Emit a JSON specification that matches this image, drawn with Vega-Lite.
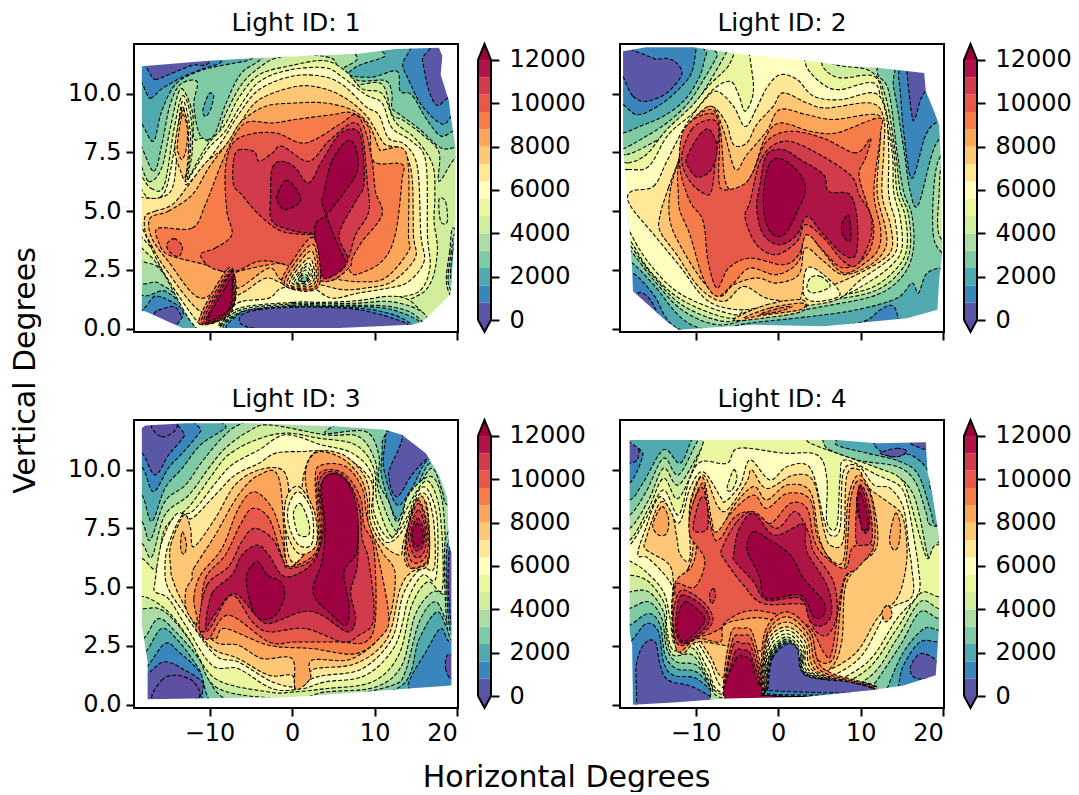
{"$schema":"https://vega.github.io/schema/vega-lite/v6.json","padding":{"left":10,"top":11,"right":0,"bottom":0},"background":"white","columns":5,"spacing":{"row":88,"column":20},"bounds":"flush","config":{"font":"DejaVu Sans","view":{"stroke":null},"axis":{"labelFont":"DejaVu Sans","titleFont":"DejaVu Sans","labelFontSize":24,"labelColor":"black","tickColor":"black","tickWidth":2,"tickSize":8,"grid":false,"domain":false,"labelPadding":5,"titleFontWeight":"normal","titleFontSize":30,"titleColor":"black"},"title":{"font":"DejaVu Sans","fontSize":25,"fontWeight":"normal","color":"black","offset":7}},
"datasets":{
"c1":[{"v":0,"x":-25,"y":-2},{"v":0,"x":25,"y":-2},{"v":0,"x":25,"y":14},{"v":0,"x":-25,"y":14},
{"v":800,"x":-19,"y":10.7},{"v":800,"x":-16.6,"y":10.6},{"v":800,"x":-15,"y":10.8},{"v":800,"x":-12.1,"y":11.2},{"v":800,"x":-10.1,"y":11.3},{"v":800,"x":-8,"y":12.5},{"v":800,"x":15.4,"y":12.5},{"v":800,"x":15.8,"y":11.4},{"v":800,"x":16.6,"y":10.1},{"v":800,"x":17.6,"y":9.5},{"v":800,"x":18.8,"y":9.8},{"v":800,"x":21.8,"y":10.4},{"v":800,"x":21.8,"y":-1},{"v":800,"x":-12.5,"y":-1},{"v":800,"x":-12.9,"y":0},{"v":800,"x":-14.1,"y":0.9},{"v":800,"x":-16.2,"y":0.8},{"v":800,"x":-19,"y":0.7},
{"v":1600,"x":-19,"y":10.1},{"v":1600,"x":-17.2,"y":9.8},{"v":1600,"x":-15.8,"y":10.2},{"v":1600,"x":-13.3,"y":10.7},{"v":1600,"x":-10.5,"y":11.1},{"v":1600,"x":-8.5,"y":11.4},{"v":1600,"x":-8,"y":12.5},{"v":1600,"x":12.7,"y":12.5},{"v":1600,"x":13.4,"y":11.2},{"v":1600,"x":14.1,"y":10.6},{"v":1600,"x":15.7,"y":9.5},{"v":1600,"x":18.2,"y":8.7},{"v":1600,"x":19.6,"y":9.1},{"v":1600,"x":21.8,"y":9},{"v":1600,"x":21.8,"y":-1},{"v":1600,"x":-12,"y":-1},{"v":1600,"x":-13.2,"y":0.7},{"v":1600,"x":-14.9,"y":1.2},{"v":1600,"x":-16.5,"y":1.4},{"v":1600,"x":-19,"y":1.45},
{"v":2400,"x":-19,"y":8.7},{"v":2400,"x":-18.2,"y":8.7},{"v":2400,"x":-16.8,"y":7.97},{"v":2400,"x":-15.8,"y":9.25},{"v":2400,"x":-14.1,"y":10.4},{"v":2400,"x":-11.3,"y":10.95},{"v":2400,"x":-8.5,"y":11.2},{"v":2400,"x":-4.8,"y":11.5},{"v":2400,"x":-4,"y":12.2},{"v":2400,"x":7.3,"y":12.1},{"v":2400,"x":11.3,"y":11.65},{"v":2400,"x":8.1,"y":11.2},{"v":2400,"x":6.9,"y":10.8},{"v":2400,"x":9.7,"y":10.7},{"v":2400,"x":12.7,"y":10.95},{"v":2400,"x":13.1,"y":10.1},{"v":2400,"x":14.5,"y":9.95},{"v":2400,"x":16.2,"y":8.96},{"v":2400,"x":18,"y":8.2},{"v":2400,"x":19.6,"y":8.4},{"v":2400,"x":21.8,"y":8.4},{"v":2400,"x":21.8,"y":-1},{"v":2400,"x":-11,"y":-1},{"v":2400,"x":-11.5,"y":0},{"v":2400,"x":-13.3,"y":1},{"v":2400,"x":-15.4,"y":1.6},{"v":2400,"x":-19,"y":2},
{"v":3200,"x":-19,"y":7.8},{"v":3200,"x":-16.8,"y":6.7},{"v":3200,"x":-15.8,"y":7.8},{"v":3200,"x":-14.8,"y":9.5},{"v":3200,"x":-13.5,"y":10.4},{"v":3200,"x":-11.5,"y":10.5},{"v":3200,"x":-11.9,"y":9.5},{"v":3200,"x":-11.1,"y":8.2},{"v":3200,"x":-9.5,"y":8.2},{"v":3200,"x":-8.1,"y":9.5},{"v":3200,"x":-6.3,"y":10.8},{"v":3200,"x":-4,"y":11.4},{"v":3200,"x":-1,"y":12.2},{"v":3200,"x":5.6,"y":12.1},{"v":3200,"x":7.9,"y":11.5},{"v":3200,"x":6.1,"y":11},{"v":3200,"x":8.1,"y":10.55},{"v":3200,"x":11.3,"y":10.55},{"v":3200,"x":12.1,"y":10},{"v":3200,"x":12.1,"y":9.4},{"v":3200,"x":13.1,"y":9.1},{"v":3200,"x":15.4,"y":8.5},{"v":3200,"x":18,"y":7.7},{"v":3200,"x":19.8,"y":7.7},{"v":3200,"x":21.8,"y":7.7},{"v":3200,"x":21.8,"y":-1},{"v":3200,"x":-11,"y":-1},{"v":3200,"x":-11.5,"y":0},{"v":3200,"x":-13.7,"y":1.3},{"v":3200,"x":-16.2,"y":1.95},{"v":3200,"x":-19,"y":2.45},
{"v":4000,"x":-19,"y":7.26},{"v":4000,"x":-17.4,"y":6.27},{"v":4000,"x":-15.8,"y":6.84},{"v":4000,"x":-14.7,"y":8.63},{"v":4000,"x":-13.5,"y":10.2},{"v":4000,"x":-12.1,"y":9.25},{"v":4000,"x":-11.9,"y":8.1},{"v":4000,"x":-10.9,"y":8.1},{"v":4000,"x":-9.3,"y":7.97},{"v":4000,"x":-8.1,"y":9.1},{"v":4000,"x":-6.1,"y":10.4},{"v":4000,"x":-4,"y":11.1},{"v":4000,"x":-2,"y":11.5},{"v":4000,"x":1.2,"y":11.65},{"v":4000,"x":4.8,"y":11.5},{"v":4000,"x":5.7,"y":10.95},{"v":4000,"x":7.7,"y":10.4},{"v":4000,"x":10.9,"y":10.4},{"v":4000,"x":12.1,"y":9.1},{"v":4000,"x":13.3,"y":8.9},{"v":4000,"x":15.8,"y":8.25},{"v":4000,"x":17.8,"y":7.5},{"v":4000,"x":17.8,"y":6.27},{"v":4000,"x":19.8,"y":7.26},{"v":4000,"x":21.8,"y":7.26},{"v":4000,"x":21.8,"y":-1},{"v":4000,"x":-9,"y":-1},{"v":4000,"x":-11.5,"y":0},{"v":4000,"x":-14.1,"y":1.6},{"v":4000,"x":-16.2,"y":2.6},{"v":4000,"x":-19,"y":3.4},
{"v":4800,"x":-19,"y":6.6},{"v":4800,"x":-17.1,"y":5.97},{"v":4800,"x":-15.5,"y":6.1},{"v":4800,"x":-14.3,"y":8.5},{"v":4800,"x":-13.3,"y":9.9},{"v":4800,"x":-12.3,"y":9.1},{"v":4800,"x":-12.1,"y":7.55},{"v":4800,"x":-12.7,"y":6.4},{"v":4800,"x":-12.1,"y":6.7},{"v":4800,"x":-10.3,"y":7.8},{"v":4800,"x":-8.1,"y":8.7},{"v":4800,"x":-6.5,"y":9.8},{"v":4800,"x":-4,"y":10.8},{"v":4800,"x":0,"y":11.2},{"v":4800,"x":4,"y":11.4},{"v":4800,"x":6.5,"y":10.95},{"v":4800,"x":8.5,"y":10.2},{"v":4800,"x":10.9,"y":10},{"v":4800,"x":12.5,"y":8.8},{"v":4800,"x":14.9,"y":8.1},{"v":4800,"x":17,"y":7},{"v":4800,"x":17.3,"y":5.7},{"v":4800,"x":17.2,"y":4.57},{"v":4800,"x":17.6,"y":3.3},{"v":4800,"x":16.7,"y":1.9},{"v":4800,"x":14,"y":1.2},{"v":4800,"x":5,"y":0},{"v":4800,"x":-8.1,"y":-0.5},{"v":4800,"x":-11.5,"y":0},{"v":4800,"x":-14.5,"y":1.87},{"v":4800,"x":-16.6,"y":2.87},{"v":4800,"x":-19,"y":4},
{"v":5600,"x":-19,"y":6.2},{"v":5600,"x":-17.4,"y":5.56},{"v":5600,"x":-15.4,"y":5.84},{"v":5600,"x":-14.1,"y":7.97},{"v":5600,"x":-13.3,"y":9.67},{"v":5600,"x":-12.5,"y":8.82},{"v":5600,"x":-12.3,"y":7.54},{"v":5600,"x":-12.9,"y":6.27},{"v":5600,"x":-11.7,"y":6.84},{"v":5600,"x":-10.1,"y":7.69},{"v":5600,"x":-8.1,"y":8.4},{"v":5600,"x":-6.3,"y":9.46},{"v":5600,"x":-4,"y":10.5},{"v":5600,"x":-0.4,"y":11},{"v":5600,"x":4,"y":11.1},{"v":5600,"x":6.1,"y":10.7},{"v":5600,"x":8.9,"y":9.96},{"v":5600,"x":10.9,"y":9.6},{"v":5600,"x":12.1,"y":8.54},{"v":5600,"x":14.5,"y":7.97},{"v":5600,"x":16.2,"y":7.1},{"v":5600,"x":16.4,"y":4},{"v":5600,"x":16.7,"y":2.6},{"v":5600,"x":15.4,"y":1.59},{"v":5600,"x":12.1,"y":1.3},{"v":5600,"x":8.1,"y":1},{"v":5600,"x":0,"y":0.74},{"v":5600,"x":-6.5,"y":0.45},{"v":5600,"x":-8.1,"y":0},{"v":5600,"x":-11.5,"y":0},{"v":5600,"x":-15,"y":2},{"v":5600,"x":-16.8,"y":3.3},{"v":5600,"x":-19,"y":4.4},
{"v":6400,"x":-19,"y":5.56},{"v":6400,"x":-16.2,"y":5.56},{"v":6400,"x":-14.5,"y":5.99},{"v":6400,"x":-13.9,"y":7.54},{"v":6400,"x":-13.3,"y":9.46},{"v":6400,"x":-12.6,"y":8.26},{"v":6400,"x":-12.5,"y":7.1},{"v":6400,"x":-12.9,"y":6.13},{"v":6400,"x":-10.9,"y":6.84},{"v":6400,"x":-8.5,"y":7.97},{"v":6400,"x":-6.5,"y":9.1},{"v":6400,"x":-4,"y":10.17},{"v":6400,"x":0,"y":10.74},{"v":6400,"x":3.6,"y":10.74},{"v":6400,"x":6.1,"y":10.38},{"v":6400,"x":8.9,"y":9.46},{"v":6400,"x":10.5,"y":9.1},{"v":6400,"x":11.7,"y":8.1},{"v":6400,"x":13.7,"y":7.83},{"v":6400,"x":15.2,"y":6.84},{"v":6400,"x":15.6,"y":4},{"v":6400,"x":16,"y":2.87},{"v":6400,"x":14.1,"y":2},{"v":6400,"x":11.7,"y":1.73},{"v":6400,"x":8.1,"y":1.52},{"v":6400,"x":4.8,"y":1.3},{"v":6400,"x":2.4,"y":1.73},{"v":6400,"x":-1.2,"y":1.73},{"v":6400,"x":-2.8,"y":1.3},{"v":6400,"x":-6.1,"y":1.16},{"v":6400,"x":-8.1,"y":0.74},{"v":6400,"x":-10.5,"y":0.31},{"v":6400,"x":-11.5,"y":0.31},{"v":6400,"x":-15.4,"y":2.3},{"v":6400,"x":-17.4,"y":3.72},{"v":6400,"x":-19,"y":5},
{"v":7200,"x":-17.8,"y":4.78},{"v":7200,"x":-16.6,"y":5},{"v":7200,"x":-14.5,"y":5.28},{"v":7200,"x":-12.5,"y":6.13},{"v":7200,"x":-10.5,"y":7.05},{"v":7200,"x":-8.1,"y":7.76},{"v":7200,"x":-6.3,"y":8.75},{"v":7200,"x":-4,"y":9.74},{"v":7200,"x":0.4,"y":10.3},{"v":7200,"x":3.6,"y":10.24},{"v":7200,"x":6.5,"y":9.8},{"v":7200,"x":8.9,"y":9.1},{"v":7200,"x":10.1,"y":8.47},{"v":7200,"x":11.3,"y":7.83},{"v":7200,"x":13.3,"y":7.62},{"v":7200,"x":14.5,"y":6.55},{"v":7200,"x":14.7,"y":4},{"v":7200,"x":14.9,"y":3},{"v":7200,"x":12.1,"y":2},{"v":7200,"x":8.9,"y":1.73},{"v":7200,"x":6.1,"y":1.66},{"v":7200,"x":3.2,"y":1.87},{"v":7200,"x":1.6,"y":1.73},{"v":7200,"x":-1.2,"y":1.94},{"v":7200,"x":-3.2,"y":2.15},{"v":7200,"x":-5.7,"y":1.59},{"v":7200,"x":-7.3,"y":1.3},{"v":7200,"x":-8.1,"y":1.16},{"v":7200,"x":-11.1,"y":0.74},{"v":7200,"x":-15.4,"y":2.58},{"v":7200,"x":-17.2,"y":3.66},{"v":7200,"x":-17.8,"y":4.14},
{"v":7205,"x":-14.2,"y":7.69},{"v":7205,"x":-13.3,"y":9.28},{"v":7205,"x":-12.6,"y":8.54},{"v":7205,"x":-12.6,"y":7.26},{"v":7205,"x":-13,"y":6.4},{"v":7205,"x":-13.5,"y":6.7},
{"v":8000,"x":-17.2,"y":4.7},{"v":8000,"x":-15,"y":5},{"v":8000,"x":-12.1,"y":5.7},{"v":8000,"x":-10.1,"y":6.84},{"v":8000,"x":-7.7,"y":7.97},{"v":8000,"x":-6.1,"y":8.82},{"v":8000,"x":-3.2,"y":9.46},{"v":8000,"x":0.4,"y":9.6},{"v":8000,"x":4,"y":9.6},{"v":8000,"x":7.3,"y":9.3},{"v":8000,"x":9.3,"y":8.68},{"v":8000,"x":10.5,"y":7.69},{"v":8000,"x":10.9,"y":7.6},{"v":8000,"x":13.3,"y":7.69},{"v":8000,"x":14.1,"y":6.84},{"v":8000,"x":14.1,"y":4},{"v":8000,"x":14.1,"y":3.3},{"v":8000,"x":11.3,"y":2.16},{"v":8000,"x":8.1,"y":2},{"v":8000,"x":4.8,"y":2.16},{"v":8000,"x":1.6,"y":2.58},{"v":8000,"x":-1.2,"y":2.08},{"v":8000,"x":-2.8,"y":2.58},{"v":8000,"x":-6.5,"y":1.73},{"v":8000,"x":-7.3,"y":2.3},{"v":8000,"x":-11.1,"y":1.3},{"v":8000,"x":-15,"y":2.87},{"v":8000,"x":-17,"y":3.86},
{"v":8005,"x":-13.9,"y":7.83},{"v":8005,"x":-13.3,"y":9.1},{"v":8005,"x":-12.7,"y":8.54},{"v":8005,"x":-12.8,"y":7.69},{"v":8005,"x":-13.3,"y":7.2},{"v":8005,"x":-13.7,"y":7.4},
{"v":8800,"x":-16.2,"y":4.28},{"v":8800,"x":-12.1,"y":4.28},{"v":8800,"x":-10.5,"y":5.28},{"v":8800,"x":-8.7,"y":6.9},{"v":8800,"x":-6.9,"y":8.26},{"v":8800,"x":-5.3,"y":8.8},{"v":8800,"x":-2.4,"y":8.75},{"v":8800,"x":0.4,"y":8.9},{"v":8800,"x":4.8,"y":9.1},{"v":8800,"x":7.3,"y":9.18},{"v":8800,"x":9.3,"y":8.54},{"v":8800,"x":9.9,"y":7.12},{"v":8800,"x":13.3,"y":7},{"v":8800,"x":13.3,"y":6.27},{"v":8800,"x":12.5,"y":4},{"v":8800,"x":10.9,"y":2.87},{"v":8800,"x":7.7,"y":2.3},{"v":8800,"x":6.5,"y":2.58},{"v":8800,"x":4,"y":2.16},{"v":8800,"x":-0.8,"y":2.72},{"v":8800,"x":-2.8,"y":2.72},{"v":8800,"x":-6.5,"y":2.44},{"v":8800,"x":-7.3,"y":2.3},{"v":8800,"x":-10.5,"y":2.72},{"v":8800,"x":-15,"y":3.15},{"v":8800,"x":-16.2,"y":3.72},
{"v":9600,"x":-11.1,"y":3.15},{"v":9600,"x":-9.3,"y":3.43},{"v":9600,"x":-7.3,"y":4},{"v":9600,"x":-7.9,"y":5},{"v":9600,"x":-8.1,"y":6.7},{"v":9600,"x":-7.3,"y":7.83},{"v":9600,"x":-5.3,"y":8.26},{"v":9600,"x":-2,"y":8.33},{"v":9600,"x":1.6,"y":7.9},{"v":9600,"x":5.7,"y":8.68},{"v":9600,"x":7.7,"y":9.1},{"v":9600,"x":8.9,"y":8.4},{"v":9600,"x":9.7,"y":7.12},{"v":9600,"x":10.1,"y":5.84},{"v":9600,"x":10.9,"y":4.85},{"v":9600,"x":8.5,"y":3.72},{"v":9600,"x":7.3,"y":3},{"v":9600,"x":6.9,"y":2.58},{"v":9600,"x":4,"y":2},{"v":9600,"x":-0.8,"y":2.72},{"v":9600,"x":-4,"y":2.87},{"v":9600,"x":-6.9,"y":2.44},{"v":9600,"x":-9.7,"y":2.58},
{"v":9601,"x":-15.2,"y":3.57},{"v":9601,"x":-14.3,"y":3.83},{"v":9601,"x":-13.3,"y":3.5},{"v":9601,"x":-13.7,"y":3.08},{"v":9601,"x":-14.7,"y":3.22},
{"v":10400,"x":-7.1,"y":7.12},{"v":10400,"x":-6.5,"y":7.6},{"v":10400,"x":-4.6,"y":7.54},{"v":10400,"x":-4,"y":7.12},{"v":10400,"x":-2.4,"y":7.47},{"v":10400,"x":-1.2,"y":7.76},{"v":10400,"x":2,"y":7.12},{"v":10400,"x":4.4,"y":7.97},{"v":10400,"x":7.3,"y":8.75},{"v":10400,"x":8.5,"y":8.26},{"v":10400,"x":9.1,"y":6.27},{"v":10400,"x":9.3,"y":5},{"v":10400,"x":7.7,"y":4},{"v":10400,"x":6.5,"y":2.87},{"v":10400,"x":4.8,"y":4},{"v":10400,"x":2.6,"y":4},{"v":10400,"x":-1.2,"y":4.14},{"v":10400,"x":-4,"y":4.85},{"v":10400,"x":-6.1,"y":5.7},{"v":10400,"x":-7.1,"y":6.13},
{"v":11200,"x":-2.6,"y":5.7},{"v":11200,"x":-2.4,"y":6.84},{"v":11200,"x":-1.2,"y":7.12},{"v":11200,"x":0.4,"y":6.84},{"v":11200,"x":2,"y":6.2},{"v":11200,"x":3.6,"y":7.12},{"v":11200,"x":5.7,"y":8.26},{"v":11200,"x":7.7,"y":8.47},{"v":11200,"x":8.5,"y":7.83},{"v":11200,"x":8.7,"y":6.13},{"v":11200,"x":7.7,"y":5.42},{"v":11200,"x":5.7,"y":4},{"v":11200,"x":6.7,"y":2.87},{"v":11200,"x":4,"y":2.16},{"v":11200,"x":2.8,"y":3.3},{"v":11200,"x":2.6,"y":4},{"v":11200,"x":0.4,"y":4.14},{"v":11200,"x":-2.4,"y":4.57},
{"v":12000,"x":-1.8,"y":5.7},{"v":12000,"x":-0.8,"y":6.3},{"v":12000,"x":0.4,"y":6},{"v":12000,"x":1,"y":5.42},{"v":12000,"x":-0.8,"y":5.06},{"v":12000,"x":-1.7,"y":5.35},
{"v":12001,"x":3.8,"y":5.7},{"v":12001,"x":4.8,"y":7.12},{"v":12001,"x":6.7,"y":8},{"v":12001,"x":7.7,"y":7.69},{"v":12001,"x":7.9,"y":6.7},{"v":12001,"x":6.1,"y":5.7},{"v":12001,"x":4.2,"y":4.85},{"v":12001,"x":2.8,"y":4.42},{"v":12001,"x":3,"y":3.3},{"v":12001,"x":3.6,"y":2.23},{"v":12001,"x":4.8,"y":2.23},{"v":12001,"x":6.5,"y":2.72},{"v":12001,"x":5.7,"y":3.43},{"v":12001,"x":4.4,"y":4.57},{"v":12001,"x":3.6,"y":5.42},
{"v":8801,"x":2.6,"y":3.87},{"v":8801,"x":0,"y":2.85},{"v":8801,"x":-1.2,"y":1.94},{"v":8801,"x":1.6,"y":1.59},{"v":8801,"x":3.4,"y":2},
{"v":8001,"x":2.6,"y":3.58},{"v":8001,"x":0.2,"y":2.72},{"v":8001,"x":-0.9,"y":1.87},{"v":8001,"x":1.6,"y":1.66},{"v":8001,"x":3.1,"y":2},
{"v":7201,"x":2.4,"y":3.3},{"v":7201,"x":0.4,"y":2.6},{"v":7201,"x":-0.6,"y":1.87},{"v":7201,"x":1.6,"y":1.73},{"v":7201,"x":2.9,"y":2.08},
{"v":6401,"x":2.2,"y":3},{"v":6401,"x":0.6,"y":2.5},{"v":6401,"x":-0.3,"y":1.89},{"v":6401,"x":1.6,"y":1.8},{"v":6401,"x":2.7,"y":2.15},
{"v":5601,"x":2,"y":2.8},{"v":5601,"x":0.8,"y":2.4},{"v":5601,"x":0,"y":1.94},{"v":5601,"x":1.6,"y":1.87},{"v":5601,"x":2.5,"y":2.23},
{"v":4801,"x":1.8,"y":2.65},{"v":4801,"x":0.9,"y":2.33},{"v":4801,"x":0.3,"y":1.94},{"v":4801,"x":1.6,"y":1.94},{"v":4801,"x":2.3,"y":2.27},
{"v":4001,"x":1.6,"y":2.5},{"v":4001,"x":1,"y":2.23},{"v":4001,"x":0.6,"y":1.94},{"v":4001,"x":1.6,"y":1.98},{"v":4001,"x":2.1,"y":2.27},
{"v":3201,"x":1.4,"y":2.3},{"v":3201,"x":0.8,"y":2.07},{"v":3201,"x":1.6,"y":2.01},{"v":3201,"x":1.9,"y":2.23},
{"v":2401,"x":1.3,"y":2.17},{"v":2401,"x":1.1,"y":2.03},{"v":2401,"x":1.7,"y":2.03},{"v":2401,"x":1.8,"y":2.17},
{"v":1605,"x":-10.8,"y":9.3},{"v":1605,"x":-10.1,"y":9.98},{"v":1605,"x":-9.5,"y":9.9},{"v":1605,"x":-9.9,"y":9.3},{"v":1605,"x":-10.5,"y":9.03},
{"v":4005,"x":17.8,"y":5.5},{"v":4005,"x":18.6,"y":5.4},{"v":4005,"x":18.8,"y":4.55},{"v":4005,"x":18,"y":4.57},
{"v":3205,"x":19.6,"y":4.28},{"v":3205,"x":19.1,"y":3.3},{"v":3205,"x":18.7,"y":1.94},{"v":3205,"x":19.8,"y":1.3},{"v":3205,"x":21.4,"y":2.58},
{"v":2405,"x":19.8,"y":4},{"v":2405,"x":19.3,"y":3.3},{"v":2405,"x":18.9,"y":2},{"v":2405,"x":19.8,"y":1.59},{"v":2405,"x":21.4,"y":2.58},
{"v":1606,"x":19.9,"y":3.7},{"v":1606,"x":19.5,"y":3.3},{"v":1606,"x":19.2,"y":2.27},{"v":1606,"x":19.8,"y":1.87},{"v":1606,"x":21.4,"y":2.58},
{"v":4002,"x":-6.9,"y":0.81},{"v":4002,"x":0,"y":1.12},{"v":4002,"x":4,"y":1.12},{"v":4002,"x":8.1,"y":1.2},{"v":4002,"x":11.7,"y":1.38},{"v":4002,"x":14.1,"y":1.23},{"v":4002,"x":16,"y":0.5},{"v":4002,"x":15.5,"y":-0.2},{"v":4002,"x":-6.9,"y":-0.2},
{"v":3202,"x":-6.7,"y":0.74},{"v":3202,"x":0,"y":1.06},{"v":3202,"x":4,"y":1.06},{"v":3202,"x":8.1,"y":1.09},{"v":3202,"x":11.7,"y":1.16},{"v":3202,"x":14.9,"y":0.88},{"v":3202,"x":16.4,"y":0.45},{"v":3202,"x":16.4,"y":-0.2},{"v":3202,"x":-6.7,"y":-0.2},
{"v":2402,"x":-6.5,"y":0.67},{"v":2402,"x":0,"y":1},{"v":2402,"x":4,"y":1},{"v":2402,"x":8.1,"y":1},{"v":2402,"x":11.7,"y":0.95},{"v":2402,"x":14.5,"y":0.67},{"v":2402,"x":16.2,"y":0.1},{"v":2402,"x":16.2,"y":-0.2},{"v":2402,"x":-6.7,"y":-0.2},
{"v":1602,"x":-6.4,"y":0.62},{"v":1602,"x":0,"y":0.95},{"v":1602,"x":4,"y":0.95},{"v":1602,"x":8.1,"y":0.95},{"v":1602,"x":12.1,"y":0.81},{"v":1602,"x":15.4,"y":0.31},{"v":1602,"x":15.4,"y":-0.2},{"v":1602,"x":-6.5,"y":-0.2},
{"v":802,"x":-6.5,"y":0.6},{"v":802,"x":-4,"y":0.85},{"v":802,"x":0,"y":0.92},{"v":802,"x":4,"y":0.92},{"v":802,"x":8.1,"y":0.88},{"v":802,"x":12.1,"y":0.62},{"v":802,"x":14.5,"y":0.17},{"v":802,"x":14.5,"y":-0.2},{"v":802,"x":-6.3,"y":-0.2},
{"v":2,"x":-6.3,"y":0.52},{"v":2,"x":-4,"y":0.81},{"v":2,"x":0,"y":0.91},{"v":2,"x":4,"y":0.91},{"v":2,"x":8.1,"y":0.81},{"v":2,"x":12.1,"y":0.45},{"v":2,"x":13.7,"y":0.1},{"v":2,"x":5.7,"y":-0.11},{"v":2,"x":-4.8,"y":0.03},
{"v":8802,"x":-11.3,"y":0.31},{"v":8802,"x":-7.9,"y":2.51},{"v":8802,"x":-6.9,"y":2.16},{"v":8802,"x":-6.9,"y":1.16},{"v":8802,"x":-8.1,"y":0.45},
{"v":9602,"x":-11,"y":0.34},{"v":9602,"x":-7.7,"y":2.44},{"v":9602,"x":-7,"y":2.1},{"v":9602,"x":-7,"y":1.16},{"v":9602,"x":-8.3,"y":0.45},
{"v":10402,"x":-10.7,"y":0.37},{"v":10402,"x":-7.5,"y":2.41},{"v":10402,"x":-7.1,"y":2},{"v":10402,"x":-7.1,"y":1.09},{"v":10402,"x":-8.5,"y":0.45},
{"v":11202,"x":-10.4,"y":0.38},{"v":11202,"x":-7.4,"y":2.38},{"v":11202,"x":-7.2,"y":1.94},{"v":11202,"x":-7.3,"y":1.02},{"v":11202,"x":-8.7,"y":0.48},
{"v":12002,"x":-10.2,"y":0.41},{"v":12002,"x":-8.1,"y":1.73},{"v":12002,"x":-7.3,"y":2.15},{"v":12002,"x":-7.5,"y":0.95},{"v":12002,"x":-8.9,"y":0.52}],
"m1":[{"x":-25,"y":14},{"x":25,"y":14},{"x":25,"y":-2},{"x":-25,"y":-2},{"x":-25,"y":14},{"x":-18.2,"y":11.16},{"x":-18.2,"y":0.74},{"x":-17.8,"y":0.74},{"x":-13.3,"y":0.03},{"x":5.7,"y":0.03},{"x":14.5,"y":0.17},{"x":15.8,"y":0.3},{"x":19.2,"y":1.45},{"x":19.8,"y":4.6},{"x":19.8,"y":7.7},{"x":19.2,"y":9.1},{"x":19,"y":9.7},{"x":18,"y":10.8},{"x":18.2,"y":11.6},{"x":17.8,"y":11.95},{"x":12.5,"y":11.9},{"x":8.1,"y":11.7},{"x":1.6,"y":11.6},{"x":-4.8,"y":11.5},{"x":-10.1,"y":11.4},{"x":-18.2,"y":11.16},{"x":-25,"y":14}],
"c2":[{"v":0,"x":-25,"y":-2},{"v":0,"x":25,"y":-2},{"v":0,"x":25,"y":14},{"v":0,"x":-25,"y":14},
{"v":800,"x":-20.4,"y":10.88},{"v":800,"x":-17.6,"y":9.89},{"v":800,"x":-16,"y":9.67},{"v":800,"x":-13.5,"y":10.03},{"v":800,"x":-11.7,"y":10.8},{"v":800,"x":-12.3,"y":11.3},{"v":800,"x":-13.5,"y":11.5},{"v":800,"x":-15.1,"y":11.5},{"v":800,"x":-16,"y":12.2},{"v":800,"x":15.4,"y":12.2},{"v":800,"x":15.6,"y":10.95},{"v":800,"x":16.2,"y":9.1},{"v":800,"x":16.6,"y":8.96},{"v":800,"x":17.9,"y":10.1},{"v":800,"x":21.7,"y":10.5},{"v":800,"x":21.7,"y":-0.5},{"v":800,"x":-13.1,"y":-0.5},{"v":800,"x":-14.7,"y":0.74},{"v":800,"x":-16.4,"y":1.52},{"v":800,"x":-20.4,"y":2},
{"v":1600,"x":-20.4,"y":9.8},{"v":1600,"x":-18.8,"y":9.54},{"v":1600,"x":-17,"y":9.1},{"v":1600,"x":-14.3,"y":9.53},{"v":1600,"x":-12.1,"y":10.17},{"v":1600,"x":-10.5,"y":10.88},{"v":1600,"x":-9.9,"y":11.97},{"v":1600,"x":-9.5,"y":12.2},{"v":1600,"x":13.4,"y":12.2},{"v":1600,"x":14.6,"y":10.66},{"v":1600,"x":15.2,"y":8.4},{"v":1600,"x":16.2,"y":6.4},{"v":1600,"x":17.9,"y":8.25},{"v":1600,"x":19.5,"y":8.82},{"v":1600,"x":21.7,"y":8.82},{"v":1600,"x":21.7,"y":-0.5},{"v":1600,"x":15.6,"y":0},{"v":1600,"x":14,"y":0.95},{"v":1600,"x":12.4,"y":0.81},{"v":1600,"x":10.4,"y":0.31},{"v":1600,"x":5.5,"y":0},{"v":1600,"x":4.7,"y":-0.5},{"v":1600,"x":-3.4,"y":-0.5},{"v":1600,"x":-12.1,"y":0},{"v":1600,"x":-15.1,"y":1.45},{"v":1600,"x":-17.6,"y":2.36},{"v":1600,"x":-20.4,"y":2.6},
{"v":2400,"x":-20.4,"y":8.4},{"v":2400,"x":-18.8,"y":8.33},{"v":2400,"x":-16.8,"y":8.6},{"v":2400,"x":-13.9,"y":9.04},{"v":2400,"x":-11.3,"y":9.74},{"v":2400,"x":-9.5,"y":10.74},{"v":2400,"x":-8.7,"y":11.66},{"v":2400,"x":-7.4,"y":12.2},{"v":2400,"x":12.4,"y":12.2},{"v":2400,"x":14,"y":10.24},{"v":2400,"x":15.2,"y":7.69},{"v":2400,"x":16,"y":5.84},{"v":2400,"x":17,"y":5.28},{"v":2400,"x":19.1,"y":7.83},{"v":2400,"x":21.7,"y":8.26},{"v":2400,"x":21.7,"y":2.58},{"v":2400,"x":19.5,"y":2.58},{"v":2400,"x":17.9,"y":2.3},{"v":2400,"x":17,"y":1.52},{"v":2400,"x":16.2,"y":1.94},{"v":2400,"x":14.4,"y":1.3},{"v":2400,"x":9.6,"y":0.81},{"v":2400,"x":3.9,"y":0.52},{"v":2400,"x":-3.4,"y":0.24},{"v":2400,"x":-8.3,"y":-0.04},{"v":2400,"x":-11.7,"y":0.45},{"v":2400,"x":-15.1,"y":1.87},{"v":2400,"x":-18,"y":2.87},{"v":2400,"x":-20.4,"y":3},
{"v":3200,"x":-20.4,"y":7.55},{"v":3200,"x":-18.8,"y":7.65},{"v":3200,"x":-16.4,"y":8.1},{"v":3200,"x":-13.5,"y":8.75},{"v":3200,"x":-10.9,"y":9.6},{"v":3200,"x":-8.9,"y":10.67},{"v":3200,"x":-7.4,"y":11.59},{"v":3200,"x":-6.6,"y":12.2},{"v":3200,"x":11.2,"y":12.2},{"v":3200,"x":12,"y":10.88},{"v":3200,"x":13.4,"y":10.1},{"v":3200,"x":14.4,"y":7.55},{"v":3200,"x":15.2,"y":5.84},{"v":3200,"x":16.2,"y":4.85},{"v":3200,"x":16.4,"y":3.43},{"v":3200,"x":15.2,"y":2.3},{"v":3200,"x":12,"y":1.45},{"v":3200,"x":5.5,"y":0.95},{"v":3200,"x":-3,"y":0.45},{"v":3200,"x":-7.4,"y":0.17},{"v":3200,"x":-11.7,"y":0.81},{"v":3200,"x":-15.1,"y":2.08},{"v":3200,"x":-18.2,"y":3.43},{"v":3200,"x":-20.4,"y":3.86},
{"v":3201,"x":21.7,"y":7.4},{"v":3201,"x":19.7,"y":7.33},{"v":3201,"x":18.9,"y":6.13},{"v":3201,"x":18.8,"y":4},{"v":3201,"x":19.9,"y":3.22},{"v":3201,"x":21.7,"y":3},
{"v":4001,"x":21.7,"y":6.98},{"v":4001,"x":19.9,"y":6.98},{"v":4001,"x":19.5,"y":5.7},{"v":4001,"x":19.5,"y":4},{"v":4001,"x":21.7,"y":3.6},
{"v":4000,"x":-20.4,"y":7.33},{"v":4000,"x":-18.4,"y":7.4},{"v":4000,"x":-16.4,"y":7.69},{"v":4000,"x":-13.1,"y":8.4},{"v":4000,"x":-10.3,"y":9.46},{"v":4000,"x":-8.3,"y":10.52},{"v":4000,"x":-6.2,"y":11.8},{"v":4000,"x":-5.8,"y":12.2},{"v":4000,"x":5.9,"y":12.2},{"v":4000,"x":6.5,"y":11.3},{"v":4000,"x":11.2,"y":10.95},{"v":4000,"x":13,"y":9.89},{"v":4000,"x":14.2,"y":7.55},{"v":4000,"x":14.8,"y":5.84},{"v":4000,"x":15.8,"y":4.85},{"v":4000,"x":16,"y":3.43},{"v":4000,"x":14.8,"y":2.44},{"v":4000,"x":11.6,"y":1.59},{"v":4000,"x":5.5,"y":1.16},{"v":4000,"x":-3,"y":0.62},{"v":4000,"x":-6.6,"y":0.31},{"v":4000,"x":-11.7,"y":1.02},{"v":4000,"x":-15.3,"y":2.3},{"v":4000,"x":-18.4,"y":3.72},{"v":4000,"x":-20.4,"y":4},
{"v":4800,"x":-20.4,"y":7.05},{"v":4800,"x":-18.2,"y":7.05},{"v":4800,"x":-16,"y":7.4},{"v":4800,"x":-13.5,"y":8.47},{"v":4800,"x":-10.5,"y":9.46},{"v":4800,"x":-8.3,"y":10.38},{"v":4800,"x":-6.2,"y":11.1},{"v":4800,"x":-5.4,"y":11.66},{"v":4800,"x":-5,"y":12.2},{"v":4800,"x":3.9,"y":12.2},{"v":4800,"x":5.5,"y":11.1},{"v":4800,"x":7.5,"y":10.67},{"v":4800,"x":11.6,"y":10.74},{"v":4800,"x":12.8,"y":9.67},{"v":4800,"x":14,"y":7.55},{"v":4800,"x":14.4,"y":5.84},{"v":4800,"x":15.4,"y":4.78},{"v":4800,"x":15.6,"y":3.43},{"v":4800,"x":14.4,"y":2.58},{"v":4800,"x":11.2,"y":1.73},{"v":4800,"x":5.5,"y":1.3},{"v":4800,"x":-3,"y":0.81},{"v":4800,"x":-6,"y":0.45},{"v":4800,"x":-11.7,"y":1.23},{"v":4800,"x":-15.5,"y":2.44},{"v":4800,"x":-18.2,"y":3.86},{"v":4800,"x":-20.4,"y":4.28},
{"v":5600,"x":-20.4,"y":6.7},{"v":5600,"x":-18.2,"y":6.77},{"v":5600,"x":-15.7,"y":6.9},{"v":5600,"x":-13.3,"y":8.26},{"v":5600,"x":-10.3,"y":9.18},{"v":5600,"x":-7.9,"y":10.17},{"v":5600,"x":-5.8,"y":10.52},{"v":5600,"x":-4.8,"y":9.96},{"v":5600,"x":-4,"y":9.25},{"v":5600,"x":-3,"y":10.1},{"v":5600,"x":-3.4,"y":11.5},{"v":5600,"x":-3.6,"y":12.2},{"v":5600,"x":2.3,"y":12.2},{"v":5600,"x":3.5,"y":11.1},{"v":5600,"x":5.5,"y":10.38},{"v":5600,"x":7.5,"y":10.17},{"v":5600,"x":11.6,"y":10.45},{"v":5600,"x":12.6,"y":9.39},{"v":5600,"x":13.8,"y":7.55},{"v":5600,"x":14,"y":5.84},{"v":5600,"x":14.8,"y":4.71},{"v":5600,"x":15,"y":3.43},{"v":5600,"x":13.8,"y":2.72},{"v":5600,"x":10.8,"y":1.94},{"v":5600,"x":7.1,"y":1.3},{"v":5600,"x":3.1,"y":1.16},{"v":5600,"x":-3.4,"y":0.95},{"v":5600,"x":-5.4,"y":0.6},{"v":5600,"x":-11.7,"y":1.45},{"v":5600,"x":-15.5,"y":2.72},{"v":5600,"x":-18,"y":4.14},{"v":5600,"x":-18.4,"y":4.85},{"v":5600,"x":-20.4,"y":4.6},
{"v":6400,"x":-17.8,"y":5.84},{"v":6400,"x":-15.1,"y":6.06},{"v":6400,"x":-13.5,"y":7.12},{"v":6400,"x":-11.3,"y":8.6},{"v":6400,"x":-8.9,"y":9.74},{"v":6400,"x":-7.4,"y":10.1},{"v":6400,"x":-5.4,"y":9.46},{"v":6400,"x":-4,"y":8.6},{"v":6400,"x":-2.6,"y":9.39},{"v":6400,"x":-1.4,"y":10.24},{"v":6400,"x":0.2,"y":10.8},{"v":6400,"x":2.3,"y":10.6},{"v":6400,"x":4.3,"y":9.89},{"v":6400,"x":7.5,"y":9.74},{"v":6400,"x":11.6,"y":10.03},{"v":6400,"x":13,"y":9.25},{"v":6400,"x":13.4,"y":7.55},{"v":6400,"x":13.4,"y":5.7},{"v":6400,"x":14.2,"y":4.57},{"v":6400,"x":14.4,"y":3.43},{"v":6400,"x":13.2,"y":2.87},{"v":6400,"x":10,"y":2.08},{"v":6400,"x":7.5,"y":1.3},{"v":6400,"x":4.3,"y":1.02},{"v":6400,"x":-1,"y":0.95},{"v":6400,"x":-5,"y":0.81},{"v":6400,"x":-8.7,"y":1.23},{"v":6400,"x":-11.9,"y":2.65},{"v":6400,"x":-14.9,"y":3.93},{"v":6400,"x":-18,"y":5.28},
{"v":7200,"x":-14.3,"y":4.85},{"v":7200,"x":-13.3,"y":5.99},{"v":7200,"x":-12.1,"y":7.12},{"v":7200,"x":-10.7,"y":8.54},{"v":7200,"x":-8.3,"y":9.46},{"v":7200,"x":-6.4,"y":8.82},{"v":7200,"x":-5.4,"y":7.83},{"v":7200,"x":-3.8,"y":7.9},{"v":7200,"x":-2.6,"y":8.68},{"v":7200,"x":-0.6,"y":9.46},{"v":7200,"x":0.6,"y":10.03},{"v":7200,"x":3.5,"y":9.6},{"v":7200,"x":5.9,"y":9.39},{"v":7200,"x":11.2,"y":9.6},{"v":7200,"x":12.8,"y":8.96},{"v":7200,"x":12.8,"y":7.55},{"v":7200,"x":12.6,"y":5.7},{"v":7200,"x":13.6,"y":4.43},{"v":7200,"x":13.8,"y":3.43},{"v":7200,"x":12.4,"y":2.87},{"v":7200,"x":8.7,"y":2.16},{"v":7200,"x":5.5,"y":1.73},{"v":7200,"x":3.1,"y":1.59},{"v":7200,"x":2.3,"y":1.16},{"v":7200,"x":-1.4,"y":1.3},{"v":7200,"x":-4.2,"y":1.8},{"v":7200,"x":-6.6,"y":1.16},{"v":7200,"x":-9.5,"y":1.73},{"v":7200,"x":-12.3,"y":3.15},{"v":7200,"x":-14.3,"y":4.14},
{"v":8000,"x":-13.1,"y":5.84},{"v":8000,"x":-12.1,"y":7.12},{"v":8000,"x":-10.7,"y":8.68},{"v":8000,"x":-8.1,"y":9.46},{"v":8000,"x":-6.6,"y":8.4},{"v":8000,"x":-5.2,"y":6.77},{"v":8000,"x":-3.8,"y":7.4},{"v":8000,"x":-1.4,"y":8.4},{"v":8000,"x":0.2,"y":9.32},{"v":8000,"x":3.5,"y":9.1},{"v":8000,"x":6.7,"y":8.9},{"v":8000,"x":12,"y":9.1},{"v":8000,"x":12.4,"y":8.26},{"v":8000,"x":12,"y":5.84},{"v":8000,"x":13,"y":4.28},{"v":8000,"x":13,"y":3.43},{"v":8000,"x":11.2,"y":2.72},{"v":8000,"x":7.9,"y":2.3},{"v":8000,"x":5.5,"y":2.87},{"v":8000,"x":3.3,"y":3.43},{"v":8000,"x":2.5,"y":2.3},{"v":8000,"x":-0.2,"y":1.94},{"v":8000,"x":-2.6,"y":2.16},{"v":8000,"x":-5.4,"y":1.87},{"v":8000,"x":-7,"y":1.38},{"v":8000,"x":-9.1,"y":2},{"v":8000,"x":-11.7,"y":3.43},{"v":8000,"x":-13.1,"y":4.57},
{"v":8800,"x":-12.1,"y":5.7},{"v":8800,"x":-12.1,"y":6.98},{"v":8800,"x":-10.9,"y":8.68},{"v":8800,"x":-8.1,"y":9.32},{"v":8800,"x":-7,"y":8.4},{"v":8800,"x":-6.4,"y":6.27},{"v":8800,"x":-5,"y":5.84},{"v":8800,"x":-3.2,"y":6.55},{"v":8800,"x":-1.6,"y":8.1},{"v":8800,"x":0.2,"y":8.75},{"v":8800,"x":3.9,"y":8.4},{"v":8800,"x":7.1,"y":8.33},{"v":8800,"x":12.2,"y":8.96},{"v":8800,"x":12.4,"y":8.26},{"v":8800,"x":11.6,"y":5.84},{"v":8800,"x":12.4,"y":4.28},{"v":8800,"x":12.2,"y":3.43},{"v":8800,"x":10.8,"y":2.87},{"v":8800,"x":7.9,"y":2.37},{"v":8800,"x":5.1,"y":3.43},{"v":8800,"x":3.3,"y":4.14},{"v":8800,"x":2.5,"y":2.87},{"v":8800,"x":-0.2,"y":2.3},{"v":8800,"x":-3.4,"y":2.58},{"v":8800,"x":-5.4,"y":1.94},{"v":8800,"x":-7.4,"y":1.38},{"v":8800,"x":-9.1,"y":2.16},{"v":8800,"x":-10.7,"y":4},{"v":8800,"x":-11.9,"y":5},
{"v":9600,"x":11.2,"y":8.1},{"v":9600,"x":9.4,"y":7.48},{"v":9600,"x":5.5,"y":8.1},{"v":9600,"x":1.5,"y":8.4},{"v":9600,"x":-1.4,"y":7.97},{"v":9600,"x":-3,"y":6.7},{"v":9600,"x":-4.2,"y":6.13},{"v":9600,"x":-6.6,"y":5.91},{"v":9600,"x":-7.2,"y":6.41},{"v":9600,"x":-7.2,"y":8.82},{"v":9600,"x":-9.1,"y":9.1},{"v":9600,"x":-11.5,"y":8.4},{"v":9600,"x":-11.9,"y":6.84},{"v":9600,"x":-10.7,"y":5.42},{"v":9600,"x":-9.1,"y":4.57},{"v":9600,"x":-8.5,"y":2.87},{"v":9600,"x":-7.4,"y":1.73},{"v":9600,"x":-6,"y":2.58},{"v":9600,"x":-3.4,"y":3},{"v":9600,"x":0.6,"y":2.72},{"v":9600,"x":2.5,"y":3.15},{"v":9600,"x":3.5,"y":4},{"v":9600,"x":5.5,"y":3.3},{"v":9600,"x":7.9,"y":2.58},{"v":9600,"x":10.8,"y":3.15},{"v":9600,"x":11.6,"y":4.28},{"v":9600,"x":10.8,"y":5.28},{"v":9600,"x":9.8,"y":6.55},{"v":9600,"x":10.6,"y":7.26},
{"v":10400,"x":-11.7,"y":7.26},{"v":10400,"x":-10.5,"y":8.47},{"v":10400,"x":-8.3,"y":8.89},{"v":10400,"x":-7.2,"y":8.54},{"v":10400,"x":-7.7,"y":6.84},{"v":10400,"x":-8.1,"y":5.84},{"v":10400,"x":-8.9,"y":5.73},{"v":10400,"x":-10.7,"y":6.27},
{"v":10401,"x":-3.4,"y":5.42},{"v":10401,"x":-2,"y":7.26},{"v":10401,"x":0.6,"y":7.97},{"v":10401,"x":3.9,"y":7.62},{"v":10401,"x":8.7,"y":6.55},{"v":10401,"x":9.8,"y":5.7},{"v":10401,"x":11.2,"y":4.85},{"v":10401,"x":11.2,"y":3.86},{"v":10401,"x":9.6,"y":2.72},{"v":10401,"x":7.9,"y":2.87},{"v":10401,"x":5.5,"y":3.86},{"v":10401,"x":3.3,"y":4.43},{"v":10401,"x":2.3,"y":3.72},{"v":10401,"x":-0.2,"y":3.15},{"v":10401,"x":-2.6,"y":3.57},{"v":10401,"x":-4,"y":4.71},
{"v":11200,"x":-11.1,"y":7.26},{"v":11200,"x":-9.5,"y":8.26},{"v":11200,"x":-8.3,"y":8.47},{"v":11200,"x":-7.4,"y":7.69},{"v":11200,"x":-8.1,"y":6.77},{"v":11200,"x":-9.7,"y":6.44},{"v":11200,"x":-10.7,"y":6.77},
{"v":11201,"x":-2.2,"y":6.13},{"v":11201,"x":-1.4,"y":7.4},{"v":11201,"x":0.6,"y":7.62},{"v":11201,"x":2.7,"y":7.19},{"v":11201,"x":5.5,"y":6.55},{"v":11201,"x":6.1,"y":5.84},{"v":11201,"x":8.7,"y":5.7},{"v":11201,"x":9.6,"y":4.57},{"v":11201,"x":9.4,"y":3.15},{"v":11201,"x":7.9,"y":3.15},{"v":11201,"x":5.5,"y":4},{"v":11201,"x":3.5,"y":4.78},{"v":11201,"x":2.3,"y":4},{"v":11201,"x":0.2,"y":3.57},{"v":11201,"x":-1.8,"y":4},{"v":11201,"x":-2.6,"y":5.13},
{"v":12000,"x":-1.8,"y":5.7},{"v":12000,"x":-1,"y":7.05},{"v":12000,"x":0.6,"y":7.19},{"v":12000,"x":2.7,"y":6.55},{"v":12000,"x":3.3,"y":5.84},{"v":12000,"x":2.3,"y":4.99},{"v":12000,"x":1.1,"y":4.14},{"v":12000,"x":-0.2,"y":3.93},{"v":12000,"x":-1.4,"y":4.43},
{"v":12001,"x":7.7,"y":4.43},{"v":12001,"x":8.5,"y":4.85},{"v":12001,"x":8.8,"y":4.28},{"v":12001,"x":8.7,"y":3.72},{"v":12001,"x":7.9,"y":3.93},
{"v":5605,"x":3.5,"y":2.58},{"v":5605,"x":5.5,"y":2.3},{"v":5605,"x":7.5,"y":1.45},{"v":5605,"x":4.7,"y":1.16},{"v":5605,"x":3.1,"y":1.45},
{"v":4805,"x":3.9,"y":2.16},{"v":4805,"x":5.1,"y":2.23},{"v":4805,"x":6.3,"y":1.8},{"v":4805,"x":4.3,"y":1.52},{"v":4805,"x":3.5,"y":1.73},
{"v":7205,"x":-5.4,"y":0.38},{"v":7205,"x":-1.4,"y":1.02},{"v":7205,"x":2.9,"y":1.23},{"v":7205,"x":2.9,"y":0.74},{"v":7205,"x":-1.8,"y":0.45},
{"v":8005,"x":-4.2,"y":0.45},{"v":8005,"x":-1,"y":0.88},{"v":8005,"x":2.9,"y":1.09},{"v":8005,"x":2.7,"y":0.81},{"v":8005,"x":-1.4,"y":0.6},
{"v":8805,"x":-2.2,"y":0.62},{"v":8805,"x":0.2,"y":0.88},{"v":8805,"x":1.7,"y":0.95},{"v":8805,"x":0.2,"y":0.74}],
"m2":[{"x":-25,"y":14},{"x":25,"y":14},{"x":25,"y":-2},{"x":-25,"y":-2},{"x":-25,"y":14},{"x":-18.8,"y":11.8},{"x":-18.8,"y":7.83},{"x":-17.7,"y":2.58},{"x":-17.6,"y":1.59},{"x":-13.5,"y":0.31},{"x":-12.1,"y":-0.04},{"x":-3,"y":0.17},{"x":5.5,"y":0.1},{"x":15.6,"y":0.45},{"x":19.3,"y":0.81},{"x":19.5,"y":2},{"x":19.9,"y":3.3},{"x":19.7,"y":7.4},{"x":19.5,"y":8.68},{"x":18.9,"y":9.25},{"x":17.9,"y":10.1},{"x":17.7,"y":10.88},{"x":12,"y":11.1},{"x":8.7,"y":11.16},{"x":2.3,"y":11.45},{"x":-4.2,"y":11.66},{"x":-10.3,"y":11.97},{"x":-16,"y":11.97},{"x":-18.8,"y":11.8},{"x":-25,"y":14}],
"c3":[{"v":0,"x":-25,"y":-2},{"v":0,"x":25,"y":-2},{"v":0,"x":25,"y":14},{"v":0,"x":-25,"y":14},
{"v":800,"x":-20.2,"y":10.77},{"v":800,"x":-18.2,"y":10.7},{"v":800,"x":-16.6,"y":9.77},{"v":800,"x":-15,"y":10.6},{"v":800,"x":-13.1,"y":11.4},{"v":800,"x":-11.7,"y":12.2},{"v":800,"x":11.7,"y":12.2},{"v":800,"x":11.7,"y":9.77},{"v":800,"x":12.7,"y":8.85},{"v":800,"x":14.5,"y":9.77},{"v":800,"x":16.4,"y":10.48},{"v":800,"x":18.2,"y":10.77},{"v":800,"x":21.8,"y":9.9},{"v":800,"x":21.8,"y":-0.5},{"v":800,"x":-9.3,"y":-0.5},{"v":800,"x":-10.5,"y":0.82},{"v":800,"x":-13.3,"y":1.53},{"v":800,"x":-15.6,"y":1.82},{"v":800,"x":-17.8,"y":1.25},{"v":800,"x":-20.2,"y":1.1},
{"v":1600,"x":-20.2,"y":9.9},{"v":1600,"x":-18.2,"y":10.1},{"v":1600,"x":-16.8,"y":9.06},{"v":1600,"x":-15,"y":10.06},{"v":1600,"x":-13.1,"y":10.77},{"v":1600,"x":-11.1,"y":11.62},{"v":1600,"x":-10.1,"y":12.2},{"v":1600,"x":10.9,"y":12.2},{"v":1600,"x":11.3,"y":11.4},{"v":1600,"x":11.1,"y":10.06},{"v":1600,"x":12.7,"y":8.5},{"v":1600,"x":14.5,"y":9.2},{"v":1600,"x":16.8,"y":10.48},{"v":1600,"x":21.8,"y":10.34},{"v":1600,"x":21.8,"y":3.24},{"v":1600,"x":19.2,"y":2.67},{"v":1600,"x":18,"y":3.24},{"v":1600,"x":16.2,"y":2.24},{"v":1600,"x":14.1,"y":0.9},{"v":1600,"x":13.7,"y":-0.5},{"v":1600,"x":-8.5,"y":-0.5},{"v":1600,"x":-10.9,"y":1.25},{"v":1600,"x":-13.7,"y":2.24},{"v":1600,"x":-15.4,"y":2.6},{"v":1600,"x":-17.8,"y":1.53},{"v":1600,"x":-20.2,"y":1.1},
{"v":2400,"x":-20.2,"y":9.1},{"v":2400,"x":-18.2,"y":8.92},{"v":2400,"x":-17,"y":7.8},{"v":2400,"x":-15.4,"y":9.2},{"v":2400,"x":-13.3,"y":10.06},{"v":2400,"x":-11.1,"y":11.05},{"v":2400,"x":-8.1,"y":11.76},{"v":2400,"x":-7.3,"y":12.2},{"v":2400,"x":10.1,"y":12.2},{"v":2400,"x":10.9,"y":11.05},{"v":2400,"x":10.9,"y":9.63},{"v":2400,"x":12.9,"y":7.8},{"v":2400,"x":14.5,"y":8.64},{"v":2400,"x":17,"y":10.34},{"v":2400,"x":21.8,"y":9.63},{"v":2400,"x":21.8,"y":3.6},{"v":2400,"x":19.2,"y":3.1},{"v":2400,"x":17.6,"y":3.95},{"v":2400,"x":15.4,"y":2.8},{"v":2400,"x":13.3,"y":0.82},{"v":2400,"x":5.7,"y":0.25},{"v":2400,"x":-8.1,"y":-0.3},{"v":2400,"x":-11.3,"y":1.53},{"v":2400,"x":-13.7,"y":2.68},{"v":2400,"x":-15.8,"y":3.24},{"v":2400,"x":-17.8,"y":2.24},{"v":2400,"x":-20.2,"y":2},
{"v":3200,"x":-20.2,"y":7.71},{"v":3200,"x":-18.2,"y":7.78},{"v":3200,"x":-17.2,"y":7},{"v":3200,"x":-15.4,"y":8.64},{"v":3200,"x":-12.9,"y":9.35},{"v":3200,"x":-10.9,"y":10.34},{"v":3200,"x":-8.5,"y":11.34},{"v":3200,"x":-6.5,"y":11.9},{"v":3200,"x":-3.2,"y":12.2},{"v":3200,"x":5.7,"y":12.2},{"v":3200,"x":4,"y":11.55},{"v":3200,"x":8.9,"y":11.62},{"v":3200,"x":10.5,"y":10.63},{"v":3200,"x":10.5,"y":9.49},{"v":3200,"x":11.7,"y":8.64},{"v":3200,"x":12.7,"y":7.78},{"v":3200,"x":13.7,"y":8.5},{"v":3200,"x":15.4,"y":9.35},{"v":3200,"x":17,"y":10.06},{"v":3200,"x":18.2,"y":9.06},{"v":3200,"x":18.8,"y":8.5},{"v":3200,"x":21.8,"y":8.2},{"v":3200,"x":21.8,"y":3.95},{"v":3200,"x":19.2,"y":3.38},{"v":3200,"x":17.4,"y":4.38},{"v":3200,"x":15.4,"y":3.52},{"v":3200,"x":13.7,"y":1.39},{"v":3200,"x":12.1,"y":0.82},{"v":3200,"x":5.7,"y":0.33},{"v":3200,"x":0,"y":0.11},{"v":3200,"x":-8.1,"y":0.26},{"v":3200,"x":-11.3,"y":1.96},{"v":3200,"x":-14.1,"y":3.1},{"v":3200,"x":-16.2,"y":3.66},{"v":3200,"x":-18,"y":2.81},{"v":3200,"x":-20.2,"y":2.53},
{"v":4000,"x":-20.2,"y":6.86},{"v":4000,"x":-18.2,"y":6.86},{"v":4000,"x":-17,"y":6.29},{"v":4000,"x":-15.4,"y":8.07},{"v":4000,"x":-12.5,"y":8.92},{"v":4000,"x":-10.1,"y":10.06},{"v":4000,"x":-8.1,"y":10.91},{"v":4000,"x":-5.3,"y":11.62},{"v":4000,"x":-2.8,"y":11.9},{"v":4000,"x":4,"y":11.48},{"v":4000,"x":8.1,"y":11.4},{"v":4000,"x":10.1,"y":10.34},{"v":4000,"x":10.5,"y":9.06},{"v":4000,"x":12.7,"y":7.36},{"v":4000,"x":13.9,"y":8.78},{"v":4000,"x":15.8,"y":9.56},{"v":4000,"x":17.2,"y":9.63},{"v":4000,"x":18.2,"y":8.64},{"v":4000,"x":18.6,"y":6.79},{"v":4000,"x":18.8,"y":4.8},{"v":4000,"x":17,"y":4.8},{"v":4000,"x":14.9,"y":3.81},{"v":4000,"x":13.3,"y":1.68},{"v":4000,"x":10.1,"y":0.75},{"v":4000,"x":4,"y":0.54},{"v":4000,"x":0,"y":0.26},{"v":4000,"x":-8.9,"y":0.68},{"v":4000,"x":-11.7,"y":2.39},{"v":4000,"x":-14.5,"y":3.66},{"v":4000,"x":-16.2,"y":4.09},{"v":4000,"x":-17.8,"y":4.09},{"v":4000,"x":-20.2,"y":4.09},
{"v":4800,"x":-20.2,"y":6.22},{"v":4800,"x":-18.2,"y":6.22},{"v":4800,"x":-16.4,"y":5.8},{"v":4800,"x":-15.4,"y":7.5},{"v":4800,"x":-12.5,"y":8.42},{"v":4800,"x":-9.7,"y":9.77},{"v":4800,"x":-7.7,"y":10.63},{"v":4800,"x":-4.4,"y":11.26},{"v":4800,"x":-0.8,"y":11.55},{"v":4800,"x":3.2,"y":11.34},{"v":4800,"x":7.7,"y":11.05},{"v":4800,"x":9.9,"y":10.06},{"v":4800,"x":10.3,"y":8.64},{"v":4800,"x":12.1,"y":7.14},{"v":4800,"x":13.7,"y":8.21},{"v":4800,"x":15.8,"y":9.42},{"v":4800,"x":17,"y":9.28},{"v":4800,"x":18,"y":7.93},{"v":4800,"x":18.2,"y":4.94},{"v":4800,"x":16.4,"y":5.23},{"v":4800,"x":14.5,"y":4.23},{"v":4800,"x":12.9,"y":2.1},{"v":4800,"x":9.7,"y":0.97},{"v":4800,"x":4,"y":0.68},{"v":4800,"x":0,"y":0.54},{"v":4800,"x":-2.8,"y":0.54},{"v":4800,"x":-9.3,"y":1.11},{"v":4800,"x":-12.5,"y":2.81},{"v":4800,"x":-15,"y":3.95},{"v":4800,"x":-17.8,"y":4.59},{"v":4800,"x":-20.2,"y":4.52},
{"v":5600,"x":-16.6,"y":5.23},{"v":5600,"x":-15.8,"y":6.9},{"v":5600,"x":-14.1,"y":8.07},{"v":5600,"x":-12.1,"y":8.21},{"v":5600,"x":-9.3,"y":9.42},{"v":5600,"x":-7.3,"y":10.2},{"v":5600,"x":-4,"y":10.84},{"v":5600,"x":-0.8,"y":11.48},{"v":5600,"x":3.6,"y":11.05},{"v":5600,"x":7.3,"y":10.7},{"v":5600,"x":9.7,"y":9.77},{"v":5600,"x":9.9,"y":8.21},{"v":5600,"x":11.7,"y":7.08},{"v":5600,"x":13.6,"y":7.78},{"v":5600,"x":15.4,"y":9.14},{"v":5600,"x":16.6,"y":9.06},{"v":5600,"x":17.6,"y":7.78},{"v":5600,"x":17.4,"y":5.37},{"v":5600,"x":15.8,"y":5.51},{"v":5600,"x":14.1,"y":4.52},{"v":5600,"x":12.5,"y":2.53},{"v":5600,"x":8.9,"y":1.25},{"v":5600,"x":4,"y":0.97},{"v":5600,"x":1.2,"y":0.68},{"v":5600,"x":-2.4,"y":0.68},{"v":5600,"x":-6.5,"y":1.53},{"v":5600,"x":-9.7,"y":1.68},{"v":5600,"x":-12.9,"y":3.38},{"v":5600,"x":-15,"y":4.52},{"v":5600,"x":-16.6,"y":4.8},
{"v":6400,"x":-15.4,"y":5.8},{"v":6400,"x":-15,"y":6.79},{"v":6400,"x":-13.3,"y":8.07},{"v":6400,"x":-12.1,"y":7.93},{"v":6400,"x":-9.3,"y":8.92},{"v":6400,"x":-6.9,"y":9.77},{"v":6400,"x":-4,"y":10.27},{"v":6400,"x":-2,"y":10.7},{"v":6400,"x":1.2,"y":10.77},{"v":6400,"x":4,"y":10.77},{"v":6400,"x":7.3,"y":10.34},{"v":6400,"x":9.7,"y":9.42},{"v":6400,"x":9.7,"y":8.07},{"v":6400,"x":11.3,"y":6.93},{"v":6400,"x":13.3,"y":7.36},{"v":6400,"x":15.2,"y":8.85},{"v":6400,"x":16.4,"y":8.85},{"v":6400,"x":17.2,"y":7.64},{"v":6400,"x":17.2,"y":5.8},{"v":6400,"x":15.6,"y":5.8},{"v":6400,"x":13.5,"y":4.73},{"v":6400,"x":12.1,"y":2.81},{"v":6400,"x":8.5,"y":1.53},{"v":6400,"x":4,"y":1.25},{"v":6400,"x":2.4,"y":1.11},{"v":6400,"x":0.8,"y":0.75},{"v":6400,"x":-2.4,"y":0.97},{"v":6400,"x":-6.5,"y":1.82},{"v":6400,"x":-9.3,"y":2.1},{"v":6400,"x":-12.9,"y":3.81},{"v":6400,"x":-15,"y":4.94},
{"v":7200,"x":-14.7,"y":5.8},{"v":7200,"x":-14.7,"y":6.79},{"v":7200,"x":-13.1,"y":8.07},{"v":7200,"x":-12.3,"y":7.5},{"v":7200,"x":-11.9,"y":6.72},{"v":7200,"x":-9.3,"y":7.93},{"v":7200,"x":-6.9,"y":9.35},{"v":7200,"x":-4,"y":9.99},{"v":7200,"x":-1.2,"y":9.99},{"v":7200,"x":-0.4,"y":9.06},{"v":7200,"x":-0.8,"y":7.5},{"v":7200,"x":0,"y":6.08},{"v":7200,"x":2.8,"y":6.65},{"v":7200,"x":1.2,"y":8.92},{"v":7200,"x":2.4,"y":10.63},{"v":7200,"x":5.7,"y":10.7},{"v":7200,"x":8.1,"y":10.06},{"v":7200,"x":9.3,"y":9.2},{"v":7200,"x":9.5,"y":7.78},{"v":7200,"x":11.1,"y":6.79},{"v":7200,"x":13.1,"y":6.36},{"v":7200,"x":13.5,"y":6.93},{"v":7200,"x":14.9,"y":8.49},{"v":7200,"x":16.2,"y":8.64},{"v":7200,"x":16.6,"y":7.36},{"v":7200,"x":16.4,"y":5.94},{"v":7200,"x":14.5,"y":5.65},{"v":7200,"x":13.1,"y":4.94},{"v":7200,"x":11.5,"y":2.81},{"v":7200,"x":7.7,"y":1.75},{"v":7200,"x":2.8,"y":1.53},{"v":7200,"x":1.8,"y":1.11},{"v":7200,"x":0.4,"y":0.68},{"v":7200,"x":0,"y":1.25},{"v":7200,"x":-2.8,"y":1.25},{"v":7200,"x":-6.5,"y":1.96},{"v":7200,"x":-10.1,"y":2.53},{"v":7200,"x":-13.3,"y":4.38},{"v":7200,"x":-14.5,"y":5.37},
{"v":8000,"x":-12.1,"y":5.37},{"v":8000,"x":-11.9,"y":5.8},{"v":8000,"x":-9.3,"y":7.22},{"v":8000,"x":-6.5,"y":8.92},{"v":8000,"x":-4,"y":9.77},{"v":8000,"x":-1.6,"y":9.63},{"v":8000,"x":-0.8,"y":6.22},{"v":8000,"x":-0.4,"y":5.8},{"v":8000,"x":2,"y":6.5},{"v":8000,"x":3,"y":7.07},{"v":8000,"x":1.6,"y":9.63},{"v":8000,"x":2.8,"y":10.7},{"v":8000,"x":5.7,"y":10.55},{"v":8000,"x":8.1,"y":9.77},{"v":8000,"x":9.1,"y":8.78},{"v":8000,"x":9.3,"y":7.64},{"v":8000,"x":10.9,"y":6.5},{"v":8000,"x":12.5,"y":5.51},{"v":8000,"x":11.3,"y":3.24},{"v":8000,"x":7.3,"y":1.96},{"v":8000,"x":2.4,"y":1.89},{"v":8000,"x":2.2,"y":1.11},{"v":8000,"x":0.4,"y":0.68},{"v":8000,"x":0,"y":1.96},{"v":8000,"x":-3.6,"y":1.96},{"v":8000,"x":-6.5,"y":2.53},{"v":8000,"x":-9.3,"y":2.67},{"v":8000,"x":-12.5,"y":3.81},{"v":8000,"x":-12.9,"y":4.8},
{"v":8005,"x":13.7,"y":6.79},{"v":8005,"x":14.5,"y":8.21},{"v":8005,"x":15.8,"y":8.85},{"v":8005,"x":16.6,"y":7.5},{"v":8005,"x":16.4,"y":6.08},{"v":8005,"x":14.5,"y":5.8},{"v":8005,"x":13.7,"y":6.08},
{"v":8006,"x":-13.5,"y":6.86},{"v":8006,"x":-13.3,"y":7.36},{"v":8006,"x":-12.8,"y":6.86},{"v":8006,"x":-13,"y":6.43},{"v":8006,"x":-13.4,"y":6.5},
{"v":8800,"x":-11.5,"y":3.66},{"v":8800,"x":-11.9,"y":4.52},{"v":8800,"x":-11.1,"y":5.51},{"v":8800,"x":-8.5,"y":6.65},{"v":8800,"x":-6.5,"y":8.35},{"v":8800,"x":-4.6,"y":9.06},{"v":8800,"x":-2.4,"y":8.35},{"v":8800,"x":-1.2,"y":7.07},{"v":8800,"x":-0.8,"y":6.22},{"v":8800,"x":0,"y":5.87},{"v":8800,"x":2.4,"y":6.79},{"v":8800,"x":3.2,"y":7.22},{"v":8800,"x":2.8,"y":9.63},{"v":8800,"x":3.6,"y":10.2},{"v":8800,"x":6.5,"y":10.13},{"v":8800,"x":8.5,"y":9.2},{"v":8800,"x":9.1,"y":7.93},{"v":8800,"x":10.3,"y":6.5},{"v":8800,"x":11.7,"y":3.81},{"v":8800,"x":10.9,"y":2.95},{"v":8800,"x":7.7,"y":2.17},{"v":8800,"x":2.4,"y":2.39},{"v":8800,"x":-2.8,"y":2.53},{"v":8800,"x":-8.1,"y":3.24},{"v":8800,"x":-9.3,"y":2.81},{"v":8800,"x":-11.5,"y":3.1},
{"v":9600,"x":-11.1,"y":3.66},{"v":9600,"x":-10.5,"y":5.37},{"v":9600,"x":-8.1,"y":6.36},{"v":9600,"x":-6.3,"y":7.64},{"v":9600,"x":-4.8,"y":8.35},{"v":9600,"x":-2.8,"y":7.93},{"v":9600,"x":-1.4,"y":6.5},{"v":9600,"x":-0.4,"y":5.87},{"v":9600,"x":2.6,"y":6.36},{"v":9600,"x":3.4,"y":7.36},{"v":9600,"x":3,"y":9.49},{"v":9600,"x":4.2,"y":9.99},{"v":9600,"x":6.5,"y":9.77},{"v":9600,"x":8.3,"y":8.78},{"v":9600,"x":8.7,"y":7.64},{"v":9600,"x":9.9,"y":6.65},{"v":9600,"x":10.1,"y":3.66},{"v":9600,"x":8.9,"y":2.67},{"v":9600,"x":5.7,"y":2.67},{"v":9600,"x":0.4,"y":2.67},{"v":9600,"x":-2.8,"y":2.67},{"v":9600,"x":-7.7,"y":3.81},{"v":9600,"x":-10.1,"y":2.81},{"v":9600,"x":-11.1,"y":3.1},
{"v":10400,"x":-11.3,"y":3.38},{"v":10400,"x":-10.3,"y":5.09},{"v":10400,"x":-7.7,"y":5.87},{"v":10400,"x":-6.1,"y":6.93},{"v":10400,"x":-4.6,"y":7.5},{"v":10400,"x":-2.4,"y":7.07},{"v":10400,"x":-1.2,"y":6.22},{"v":10400,"x":-0.4,"y":5.8},{"v":10400,"x":2.6,"y":6.22},{"v":10400,"x":3.6,"y":7.5},{"v":10400,"x":3.2,"y":9.35},{"v":10400,"x":4.4,"y":9.91},{"v":10400,"x":6.5,"y":9.63},{"v":10400,"x":8.1,"y":8.49},{"v":10400,"x":8.5,"y":7.07},{"v":10400,"x":9.3,"y":6.08},{"v":10400,"x":9.9,"y":3.66},{"v":10400,"x":8.1,"y":2.95},{"v":10400,"x":6.1,"y":2.67},{"v":10400,"x":1.6,"y":3.24},{"v":10400,"x":-2.8,"y":3.1},{"v":10400,"x":-4.8,"y":3.52},{"v":10400,"x":-7.3,"y":4.66},{"v":10400,"x":-9.7,"y":3.38},{"v":10400,"x":-10.5,"y":3.1},
{"v":11200,"x":-10.5,"y":3.24},{"v":11200,"x":-9.7,"y":4.73},{"v":11200,"x":-7.3,"y":5.51},{"v":11200,"x":-6.1,"y":6.36},{"v":11200,"x":-4.2,"y":6.79},{"v":11200,"x":-2.8,"y":6.36},{"v":11200,"x":-0.8,"y":5.44},{"v":11200,"x":2.6,"y":6.08},{"v":11200,"x":3.8,"y":7.57},{"v":11200,"x":3.4,"y":9.2},{"v":11200,"x":4.8,"y":9.84},{"v":11200,"x":6.9,"y":9.35},{"v":11200,"x":7.9,"y":7.93},{"v":11200,"x":7.9,"y":5.94},{"v":11200,"x":7.1,"y":4.8},{"v":11200,"x":7.7,"y":3.66},{"v":11200,"x":6.7,"y":3.1},{"v":11200,"x":3.6,"y":3.81},{"v":11200,"x":1.2,"y":3.95},{"v":11200,"x":-2.8,"y":3.45},{"v":11200,"x":-4.4,"y":3.81},{"v":11200,"x":-7.1,"y":4.73},{"v":11200,"x":-9.7,"y":3.66},
{"v":12000,"x":-5.5,"y":5.51},{"v":12000,"x":-4.2,"y":6.08},{"v":12000,"x":-3,"y":5.51},{"v":12000,"x":-1.4,"y":5.23},{"v":12000,"x":-0.9,"y":4.66},{"v":12000,"x":-2,"y":3.81},{"v":12000,"x":-4,"y":3.66},{"v":12000,"x":-5.1,"y":4.38},
{"v":12002,"x":2.6,"y":5.09},{"v":12002,"x":3.6,"y":6.08},{"v":12002,"x":4,"y":7.5},{"v":12002,"x":3.6,"y":9.35},{"v":12002,"x":5.1,"y":9.82},{"v":12002,"x":6.9,"y":9.35},{"v":12002,"x":7.9,"y":8.21},{"v":12002,"x":7.8,"y":6.5},{"v":12002,"x":6.3,"y":5.65},{"v":12002,"x":6.9,"y":4.23},{"v":12002,"x":6.5,"y":3.38},{"v":12002,"x":4.4,"y":3.95},{"v":12002,"x":2.8,"y":4.52},
{"v":8801,"x":13.8,"y":7.07},{"v":8801,"x":15.2,"y":8.71},{"v":8801,"x":16.5,"y":7.5},{"v":8801,"x":16.4,"y":6.15},{"v":8801,"x":14.3,"y":5.87},
{"v":9601,"x":13.9,"y":7.22},{"v":9601,"x":15.3,"y":8.57},{"v":9601,"x":16.4,"y":7.36},{"v":9601,"x":16.2,"y":6.29},{"v":9601,"x":14.5,"y":6.08},
{"v":10401,"x":14.1,"y":7.22},{"v":10401,"x":15.3,"y":8.28},{"v":10401,"x":16.2,"y":7.36},{"v":10401,"x":16,"y":6.5},{"v":10401,"x":14.9,"y":6.29},
{"v":11201,"x":14.4,"y":7.29},{"v":11201,"x":15.2,"y":7.93},{"v":11201,"x":16,"y":7.36},{"v":11201,"x":15.8,"y":6.72},{"v":11201,"x":14.9,"y":6.58},
{"v":12001,"x":14.6,"y":7.29},{"v":12001,"x":15.2,"y":7.71},{"v":12001,"x":15.8,"y":7.29},{"v":12001,"x":15.7,"y":6.86},{"v":12001,"x":14.9,"y":6.79},
{"v":6405,"x":-0.7,"y":8.78},{"v":6405,"x":0.8,"y":9.28},{"v":6405,"x":2.7,"y":8.21},{"v":6405,"x":2.9,"y":6.79},{"v":6405,"x":0.8,"y":6.43},{"v":6405,"x":-0.8,"y":7.5},
{"v":5605,"x":-0.4,"y":8.49},{"v":5605,"x":0.8,"y":9.06},{"v":5605,"x":2.4,"y":8.21},{"v":5605,"x":2.4,"y":6.86},{"v":5605,"x":0.8,"y":6.79},{"v":5605,"x":-0.4,"y":7.64},
{"v":4805,"x":0.2,"y":8.21},{"v":4805,"x":1,"y":8.56},{"v":4805,"x":2,"y":7.78},{"v":4805,"x":2,"y":7.22},{"v":4805,"x":0.8,"y":7.22},{"v":4805,"x":0.3,"y":7.78},
{"v":2405,"x":18.6,"y":7.07},{"v":2405,"x":18.5,"y":5.09},{"v":2405,"x":18.9,"y":3.1},{"v":2405,"x":19.8,"y":3.1},{"v":2405,"x":19.8,"y":7.07},
{"v":805,"x":18.8,"y":6.79},{"v":805,"x":18.7,"y":5.09},{"v":805,"x":19.1,"y":3.24},{"v":805,"x":19.8,"y":3.24},{"v":805,"x":19.8,"y":6.79},
{"v":-4,"x":19.1,"y":6.72},{"v":-4,"x":18.9,"y":5.09},{"v":-4,"x":19.3,"y":3.38},{"v":-4,"x":19.8,"y":3.38},{"v":-4,"x":19.8,"y":6.72},
{"v":-1,"x":-16.8,"y":0.18},{"v":-1,"x":-15.8,"y":1.04},{"v":-1,"x":-14.1,"y":1.25},{"v":-1,"x":-11.9,"y":0.97},{"v":-1,"x":-11.5,"y":0.26},
{"v":-2,"x":-17,"y":11.88},{"v":-2,"x":-15.8,"y":11.4},{"v":-2,"x":-14.3,"y":11.62},{"v":-2,"x":-14.1,"y":12},
{"v":-3,"x":18.8,"y":2.1},{"v":-3,"x":18.6,"y":1.53},{"v":-3,"x":19.3,"y":1.1},{"v":-3,"x":19.8,"y":1.96}],
"m3":[{"x":-25,"y":14},{"x":25,"y":14},{"x":25,"y":-2},{"x":-25,"y":-2},{"x":-25,"y":14},{"x":-18.2,"y":11.76},{"x":-18.2,"y":3.38},{"x":-17.5,"y":1.82},{"x":-17.5,"y":0.23},{"x":0,"y":0.33},{"x":5.7,"y":0.47},{"x":13.7,"y":0.68},{"x":19.3,"y":0.82},{"x":19.3,"y":6.5},{"x":19,"y":6.79},{"x":18.8,"y":8.78},{"x":17.8,"y":9.77},{"x":16.2,"y":10.7},{"x":13.3,"y":11.48},{"x":11.3,"y":11.69},{"x":5.7,"y":11.83},{"x":-4.8,"y":11.97},{"x":-12.9,"y":11.97},{"x":-17.8,"y":11.88},{"x":-18.2,"y":11.76},{"x":-25,"y":14}],
"c4":[{"v":0,"x":-25,"y":-2},{"v":0,"x":25,"y":-2},{"v":0,"x":25,"y":14},{"v":0,"x":-25,"y":14},
{"v":800,"x":-16.8,"y":11.62},{"v":800,"x":21.7,"y":11.62},{"v":800,"x":21.7,"y":-0.5},{"v":800,"x":-7,"y":-0.5},{"v":800,"x":-7.4,"y":0.11},{"v":800,"x":-10.3,"y":0.75},{"v":800,"x":-13.3,"y":1.04},{"v":800,"x":-14.3,"y":1.68},{"v":800,"x":-14.9,"y":2.67},{"v":800,"x":-16.2,"y":2.6},{"v":800,"x":-17.2,"y":1.68},{"v":800,"x":-17.4,"y":-0.3},{"v":800,"x":-20.4,"y":-0.3},{"v":800,"x":-20.4,"y":10.27},{"v":800,"x":-18,"y":10.27},{"v":800,"x":-17,"y":10.48},{"v":800,"x":-16.8,"y":11.26},
{"v":1600,"x":-16.6,"y":11.62},{"v":1600,"x":10.8,"y":11.62},{"v":1600,"x":11.6,"y":11.05},{"v":1600,"x":13.6,"y":10.55},{"v":1600,"x":16,"y":10.63},{"v":1600,"x":18.1,"y":9.99},{"v":1600,"x":18.7,"y":9.06},{"v":1600,"x":21.7,"y":8.92},{"v":1600,"x":21.7,"y":2.81},{"v":1600,"x":19.5,"y":2.67},{"v":1600,"x":17.2,"y":2.67},{"v":1600,"x":15.2,"y":1.68},{"v":1600,"x":14.6,"y":0.82},{"v":1600,"x":14,"y":-0.5},{"v":1600,"x":-7,"y":-0.5},{"v":1600,"x":-7.4,"y":0.26},{"v":1600,"x":-9.9,"y":1.11},{"v":1600,"x":-12.7,"y":1.25},{"v":1600,"x":-13.9,"y":1.82},{"v":1600,"x":-14.5,"y":3.1},{"v":1600,"x":-16,"y":3.45},{"v":1600,"x":-18,"y":2.67},{"v":1600,"x":-20.4,"y":2.53},{"v":1600,"x":-20.4,"y":9.2},{"v":1600,"x":-18,"y":9.42},{"v":1600,"x":-16.4,"y":10.63},
{"v":2400,"x":-20.4,"y":8.99},{"v":2400,"x":-18,"y":8.71},{"v":2400,"x":-16.4,"y":9.42},{"v":2400,"x":-13.9,"y":10.84},{"v":2400,"x":-11.9,"y":10.27},{"v":2400,"x":-10.5,"y":11.26},{"v":2400,"x":-9.9,"y":11.62},{"v":2400,"x":5.9,"y":11.62},{"v":2400,"x":7.1,"y":11.05},{"v":2400,"x":10.8,"y":10.7},{"v":2400,"x":14.8,"y":10.34},{"v":2400,"x":17,"y":9.77},{"v":2400,"x":18.5,"y":8.21},{"v":2400,"x":19.1,"y":7.64},{"v":2400,"x":21.7,"y":7.64},{"v":2400,"x":21.7,"y":3.24},{"v":2400,"x":19.5,"y":3.17},{"v":2400,"x":17.7,"y":3.24},{"v":2400,"x":15.2,"y":2.24},{"v":2400,"x":13.2,"y":0.68},{"v":2400,"x":12,"y":-0.5},{"v":2400,"x":-7,"y":-0.5},{"v":2400,"x":-7.9,"y":0.54},{"v":2400,"x":-9.9,"y":1.39},{"v":2400,"x":-12.3,"y":1.53},{"v":2400,"x":-13.7,"y":2.1},{"v":2400,"x":-14.3,"y":3.38},{"v":2400,"x":-15.7,"y":3.88},{"v":2400,"x":-18,"y":3.38},{"v":2400,"x":-20.4,"y":3.1},
{"v":3200,"x":-20.4,"y":7.93},{"v":3200,"x":-18,"y":8.07},{"v":3200,"x":-16,"y":9.06},{"v":3200,"x":-13.9,"y":10.48},{"v":3200,"x":-12.1,"y":9.77},{"v":3200,"x":-9.9,"y":11.12},{"v":3200,"x":-8.7,"y":11.62},{"v":3200,"x":4.7,"y":11.62},{"v":3200,"x":5.5,"y":10.98},{"v":3200,"x":9.6,"y":10.41},{"v":3200,"x":14.4,"y":10.13},{"v":3200,"x":16.6,"y":9.49},{"v":3200,"x":17.9,"y":8.21},{"v":3200,"x":18.5,"y":7.64},{"v":3200,"x":21.7,"y":7.22},{"v":3200,"x":21.7,"y":3.81},{"v":3200,"x":19.5,"y":3.66},{"v":3200,"x":17.2,"y":3.95},{"v":3200,"x":14.8,"y":2.53},{"v":3200,"x":11.2,"y":0.68},{"v":3200,"x":7.9,"y":-0.5},{"v":3200,"x":-6.6,"y":-0.5},{"v":3200,"x":-8.3,"y":0.82},{"v":3200,"x":-9.9,"y":1.68},{"v":3200,"x":-12.3,"y":1.82},{"v":3200,"x":-13.5,"y":2.39},{"v":3200,"x":-14.1,"y":3.66},{"v":3200,"x":-15.7,"y":4.38},{"v":3200,"x":-18,"y":4.09},{"v":3200,"x":-20.4,"y":3.81},
{"v":4000,"x":-20.4,"y":7.5},{"v":4000,"x":-18,"y":7.5},{"v":4000,"x":-15.7,"y":8.71},{"v":4000,"x":-13.9,"y":10.06},{"v":4000,"x":-12.1,"y":9.35},{"v":4000,"x":-9.5,"y":10.77},{"v":4000,"x":-8.3,"y":11.48},{"v":4000,"x":-6.6,"y":11.62},{"v":4000,"x":3.9,"y":11.62},{"v":4000,"x":5.9,"y":10.91},{"v":4000,"x":9.1,"y":10.06},{"v":4000,"x":14,"y":9.77},{"v":4000,"x":16.2,"y":9.06},{"v":4000,"x":17.2,"y":7.93},{"v":4000,"x":18.3,"y":6.22},{"v":4000,"x":19.5,"y":6.93},{"v":4000,"x":21.7,"y":7.07},{"v":4000,"x":21.7,"y":4.23},{"v":4000,"x":19.5,"y":4.09},{"v":4000,"x":17.2,"y":4.38},{"v":4000,"x":14.4,"y":2.81},{"v":4000,"x":10.8,"y":1.11},{"v":4000,"x":3.9,"y":0.26},{"v":4000,"x":-6.4,"y":0.26},{"v":4000,"x":-8.3,"y":0.97},{"v":4000,"x":-10.3,"y":2.1},{"v":4000,"x":-12.7,"y":2.1},{"v":4000,"x":-13.5,"y":2.81},{"v":4000,"x":-13.9,"y":3.95},{"v":4000,"x":-15.7,"y":4.8},{"v":4000,"x":-18,"y":4.8},{"v":4000,"x":-20.4,"y":4.52},
{"v":4800,"x":-20.4,"y":7},{"v":4800,"x":-18,"y":7},{"v":4800,"x":-15.7,"y":8.35},{"v":4800,"x":-13.9,"y":9.63},{"v":4800,"x":-12.1,"y":8.78},{"v":4800,"x":-9.7,"y":10.55},{"v":4800,"x":-9.1,"y":11.12},{"v":4800,"x":-8.3,"y":11.62},{"v":4800,"x":1.5,"y":11.62},{"v":4800,"x":3.9,"y":11.12},{"v":4800,"x":7.1,"y":10.7},{"v":4800,"x":11.6,"y":10.13},{"v":4800,"x":14.8,"y":9.63},{"v":4800,"x":16,"y":8.64},{"v":4800,"x":17,"y":7.36},{"v":4800,"x":18.1,"y":6.22},{"v":4800,"x":19.1,"y":6.79},{"v":4800,"x":21.7,"y":6.51},{"v":4800,"x":21.7,"y":4.8},{"v":4800,"x":19.5,"y":4.59},{"v":4800,"x":17.2,"y":4.73},{"v":4800,"x":14.4,"y":3.24},{"v":4800,"x":10.4,"y":1.39},{"v":4800,"x":3.5,"y":0.47},{"v":4800,"x":-6.4,"y":0.4},{"v":4800,"x":-8.5,"y":1.25},{"v":4800,"x":-10.3,"y":2.39},{"v":4800,"x":-12.7,"y":2.32},{"v":4800,"x":-13.5,"y":3.24},{"v":4800,"x":-13.7,"y":4.23},{"v":4800,"x":-15.7,"y":5.23},{"v":4800,"x":-18,"y":5.51},{"v":4800,"x":-20.4,"y":5.37},
{"v":5600,"x":-18,"y":6.79},{"v":5600,"x":-16,"y":7.93},{"v":5600,"x":-13.9,"y":9.13},{"v":5600,"x":-12.1,"y":8.07},{"v":5600,"x":-10.7,"y":9.63},{"v":5600,"x":-9.3,"y":10.34},{"v":5600,"x":-6.2,"y":10.27},{"v":5600,"x":-4.8,"y":10.91},{"v":5600,"x":0.6,"y":10.7},{"v":5600,"x":4.7,"y":10.63},{"v":5600,"x":5.9,"y":9.63},{"v":5600,"x":5.9,"y":7.78},{"v":5600,"x":7.1,"y":7.57},{"v":5600,"x":7.5,"y":9.63},{"v":5600,"x":8.1,"y":10.41},{"v":5600,"x":12,"y":9.77},{"v":5600,"x":14.8,"y":9.28},{"v":5600,"x":15.8,"y":8.35},{"v":5600,"x":16.6,"y":6.79},{"v":5600,"x":17,"y":5.8},{"v":5600,"x":17,"y":4.73},{"v":5600,"x":14.4,"y":3.66},{"v":5600,"x":10.4,"y":1.68},{"v":5600,"x":3.1,"y":0.61},{"v":5600,"x":-6.4,"y":0.47},{"v":5600,"x":-8.5,"y":1.53},{"v":5600,"x":-10.3,"y":2.6},{"v":5600,"x":-12.5,"y":2.53},{"v":5600,"x":-13.1,"y":3.66},{"v":5600,"x":-13.9,"y":4.8},{"v":5600,"x":-16,"y":5.65},{"v":5600,"x":-17.8,"y":6.08},{"v":5600,"x":-20.4,"y":6.5},
{"v":6400,"x":-17,"y":6.36},{"v":6400,"x":-16.2,"y":7.36},{"v":6400,"x":-14.3,"y":8.85},{"v":6400,"x":-12.1,"y":7.71},{"v":6400,"x":-10.7,"y":9.2},{"v":6400,"x":-9.1,"y":9.91},{"v":6400,"x":-7,"y":8.85},{"v":6400,"x":-6.4,"y":8.64},{"v":6400,"x":-4.6,"y":9.35},{"v":6400,"x":-3.4,"y":10.41},{"v":6400,"x":-1,"y":9.56},{"v":6400,"x":1.1,"y":10.13},{"v":6400,"x":3.9,"y":10.06},{"v":6400,"x":5.5,"y":7.93},{"v":6400,"x":6.3,"y":7.22},{"v":6400,"x":7.5,"y":7.5},{"v":6400,"x":7.9,"y":9.91},{"v":6400,"x":9.8,"y":10.13},{"v":6400,"x":11.6,"y":9.35},{"v":6400,"x":13.6,"y":9.2},{"v":6400,"x":15.2,"y":8.35},{"v":6400,"x":15.8,"y":6.79},{"v":6400,"x":16.2,"y":5.8},{"v":6400,"x":16.2,"y":4.59},{"v":6400,"x":13.2,"y":3.95},{"v":6400,"x":9.6,"y":1.89},{"v":6400,"x":3.5,"y":0.89},{"v":6400,"x":-1,"y":1.11},{"v":6400,"x":-6.4,"y":0.68},{"v":6400,"x":-8.3,"y":1.82},{"v":6400,"x":-10.3,"y":2.81},{"v":6400,"x":-12.5,"y":2.67},{"v":6400,"x":-12.9,"y":4.09},{"v":6400,"x":-12.9,"y":5.09},{"v":6400,"x":-15.7,"y":6.22},
{"v":7200,"x":-16,"y":7.07},{"v":7200,"x":-14.3,"y":8.6},{"v":7200,"x":-12.9,"y":8.14},{"v":7200,"x":-12.3,"y":7.14},{"v":7200,"x":-11.9,"y":6.4},{"v":7200,"x":-10.7,"y":6.22},{"v":7200,"x":-10.7,"y":8.49},{"v":7200,"x":-9.1,"y":9.77},{"v":7200,"x":-7.4,"y":8.49},{"v":7200,"x":-6.2,"y":8.28},{"v":7200,"x":-3.8,"y":9.49},{"v":7200,"x":-3.2,"y":9.99},{"v":7200,"x":-1.4,"y":9.2},{"v":7200,"x":1.9,"y":9.77},{"v":7200,"x":4.3,"y":9.49},{"v":7200,"x":5.5,"y":7.5},{"v":7200,"x":6.3,"y":6.79},{"v":7200,"x":7.9,"y":7},{"v":7200,"x":8.3,"y":9.7},{"v":7200,"x":9.8,"y":9.99},{"v":7200,"x":10.8,"y":9.28},{"v":7200,"x":13.2,"y":8.64},{"v":7200,"x":15,"y":8.07},{"v":7200,"x":15.6,"y":6.79},{"v":7200,"x":15.4,"y":5.65},{"v":7200,"x":14.4,"y":4.52},{"v":7200,"x":12,"y":3.66},{"v":7200,"x":9.1,"y":2.1},{"v":7200,"x":3.9,"y":1.25},{"v":7200,"x":-1.4,"y":1.53},{"v":7200,"x":-6.4,"y":1.11},{"v":7200,"x":-8.3,"y":2.1},{"v":7200,"x":-10.3,"y":3.03},{"v":7200,"x":-12.3,"y":2.81},{"v":7200,"x":-12.7,"y":3.95},{"v":7200,"x":-12.7,"y":5.23},{"v":7200,"x":-13.3,"y":6},{"v":7200,"x":-16,"y":6.6},
{"v":8005,"x":-15.2,"y":7.64},{"v":8005,"x":-14.1,"y":8.42},{"v":8005,"x":-13.3,"y":7.93},{"v":8005,"x":-13.5,"y":7.29},{"v":8005,"x":-14.5,"y":7.22},
{"v":8006,"x":13.5,"y":7.07},{"v":8006,"x":14.2,"y":8.14},{"v":8006,"x":14.8,"y":7.64},{"v":8006,"x":14.6,"y":6.79},{"v":8006,"x":14,"y":6.58},
{"v":8007,"x":12.6,"y":3.95},{"v":8007,"x":13.3,"y":4.23},{"v":8007,"x":13.8,"y":3.81},{"v":8007,"x":13,"y":3.52},
{"v":8000,"x":-12.7,"y":4.94},{"v":8000,"x":-10.9,"y":5.8},{"v":8000,"x":-10.3,"y":6.86},{"v":8000,"x":-10.7,"y":8.35},{"v":8000,"x":-9.2,"y":9.7},{"v":8000,"x":-8.1,"y":7.93},{"v":8000,"x":-7.4,"y":7.07},{"v":8000,"x":-5.6,"y":8.35},{"v":8000,"x":-3,"y":9.28},{"v":8000,"x":-1.4,"y":8.71},{"v":8000,"x":1.1,"y":9.35},{"v":8000,"x":3.9,"y":9.06},{"v":8000,"x":4.9,"y":7.22},{"v":8000,"x":6.1,"y":6.29},{"v":8000,"x":7.9,"y":6.15},{"v":8000,"x":8.5,"y":8.78},{"v":8000,"x":9.8,"y":9.77},{"v":8000,"x":11.4,"y":8.78},{"v":8000,"x":12,"y":6.79},{"v":8000,"x":9.6,"y":5.87},{"v":8000,"x":8.1,"y":4.94},{"v":8000,"x":7.7,"y":2.67},{"v":8000,"x":6.3,"y":1.53},{"v":8000,"x":3.5,"y":1.39},{"v":8000,"x":-1.8,"y":2.24},{"v":8000,"x":-6.6,"y":2.53},{"v":8000,"x":-9.9,"y":2.67},{"v":8000,"x":-11.7,"y":2.17},{"v":8000,"x":-12.7,"y":3.24},
{"v":8800,"x":-12.5,"y":5.16},{"v":8800,"x":-10.5,"y":5.87},{"v":8800,"x":-9.9,"y":6.86},{"v":8800,"x":-10.5,"y":8.21},{"v":8800,"x":-9.1,"y":9.42},{"v":8800,"x":-8.3,"y":7.78},{"v":8800,"x":-7.4,"y":7.36},{"v":8800,"x":-5.6,"y":8.2},{"v":8800,"x":-3,"y":8.92},{"v":8800,"x":-1.4,"y":8.35},{"v":8800,"x":1.1,"y":8.99},{"v":8800,"x":3.9,"y":8.71},{"v":8800,"x":4.9,"y":7},{"v":8800,"x":7.9,"y":5.8},{"v":8800,"x":8.8,"y":8.78},{"v":8800,"x":10,"y":9.56},{"v":8800,"x":11.4,"y":8.64},{"v":8800,"x":11.6,"y":6.79},{"v":8800,"x":9.4,"y":5.87},{"v":8800,"x":7.9,"y":5.09},{"v":8800,"x":7.1,"y":2.53},{"v":8800,"x":6.3,"y":1.82},{"v":8800,"x":4.7,"y":1.96},{"v":8800,"x":3.5,"y":3.24},{"v":8800,"x":-1.4,"y":3.66},{"v":8800,"x":-3.8,"y":3.66},{"v":8800,"x":-6.6,"y":3.38},{"v":8800,"x":-7,"y":2.67},{"v":8800,"x":-9.9,"y":2.81},{"v":8800,"x":-12.1,"y":2.24},{"v":8800,"x":-12.7,"y":3.38},
{"v":9600,"x":-12.3,"y":5.16},{"v":9600,"x":-10.1,"y":5.01},{"v":9600,"x":-8.9,"y":6.15},{"v":9600,"x":-10.7,"y":7.22},{"v":9600,"x":-10.5,"y":8.35},{"v":9600,"x":-9.1,"y":9.2},{"v":9600,"x":-7.9,"y":7.22},{"v":9600,"x":-7,"y":7.07},{"v":9600,"x":-5.4,"y":7.93},{"v":9600,"x":-3.4,"y":8.21},{"v":9600,"x":-1,"y":7.71},{"v":9600,"x":1.5,"y":8.57},{"v":9600,"x":3.5,"y":8.35},{"v":9600,"x":4.3,"y":7.07},{"v":9600,"x":5.5,"y":6.36},{"v":9600,"x":8.1,"y":5.8},{"v":9600,"x":9.1,"y":6.72},{"v":9600,"x":11.6,"y":6.72},{"v":9600,"x":9.6,"y":5.8},{"v":9600,"x":7.9,"y":5.23},{"v":9600,"x":6.5,"y":2.24},{"v":9600,"x":5.5,"y":2.24},{"v":9600,"x":3.5,"y":3.38},{"v":9600,"x":-1.4,"y":3.95},{"v":9600,"x":-4.2,"y":3.95},{"v":9600,"x":-6.4,"y":3.52},{"v":9600,"x":-7,"y":3.24},{"v":9600,"x":-9.5,"y":2.95},{"v":9600,"x":-9.1,"y":3.95},{"v":9600,"x":-10.7,"y":4.73},{"v":9600,"x":-12.3,"y":4.52},
{"v":10400,"x":-10.3,"y":7.5},{"v":10400,"x":-9.5,"y":8.71},{"v":10400,"x":-8.7,"y":8.71},{"v":10400,"x":-8.5,"y":7.64},{"v":10400,"x":-9.1,"y":7.36},
{"v":10401,"x":-6.8,"y":6.65},{"v":10401,"x":-5,"y":7.78},{"v":10401,"x":-3,"y":8.21},{"v":10401,"x":-0.2,"y":7.5},{"v":10401,"x":1.9,"y":8.21},{"v":10401,"x":3.1,"y":7.78},{"v":10401,"x":3.9,"y":7.07},{"v":10401,"x":4.3,"y":6.51},{"v":10401,"x":6.7,"y":5.23},{"v":10401,"x":7.1,"y":3.81},{"v":10401,"x":5.9,"y":2.95},{"v":10401,"x":4.3,"y":3.24},{"v":10401,"x":3.5,"y":4.23},{"v":10401,"x":-1.8,"y":4.3},{"v":10401,"x":-4.2,"y":5.09},{"v":10401,"x":-6.6,"y":6.22},
{"v":10402,"x":9.4,"y":7.07},{"v":10402,"x":9.8,"y":9.28},{"v":10402,"x":11,"y":8.64},{"v":10402,"x":11.4,"y":7.07},{"v":10402,"x":10.4,"y":6.79},
{"v":10403,"x":-11.7,"y":4.87},{"v":10403,"x":-9.1,"y":4.38},{"v":10403,"x":-7.9,"y":3.66},{"v":10403,"x":-8.9,"y":3.1},{"v":10403,"x":-11.5,"y":2.53},{"v":10403,"x":-12.5,"y":2.81},{"v":10403,"x":-12.7,"y":3.95},
{"v":10404,"x":-8.3,"y":4.73},{"v":10404,"x":-7.8,"y":4.94},{"v":10404,"x":-7.6,"y":4.59},{"v":10404,"x":-8.1,"y":4.3},
{"v":11200,"x":-5.4,"y":6.36},{"v":11200,"x":-4.8,"y":7.43},{"v":11200,"x":-3,"y":8.14},{"v":11200,"x":-0.6,"y":7.22},{"v":11200,"x":2.1,"y":7.57},{"v":11200,"x":2.7,"y":7.71},{"v":11200,"x":3.3,"y":7.5},{"v":11200,"x":3.5,"y":6.51},{"v":11200,"x":5.9,"y":5.09},{"v":11200,"x":6.5,"y":3.95},{"v":11200,"x":5.5,"y":3.38},{"v":11200,"x":3.9,"y":3.52},{"v":11200,"x":2.7,"y":4.52},{"v":11200,"x":-1.4,"y":4.45},{"v":11200,"x":-3,"y":5.23},{"v":11200,"x":-5.2,"y":6.08},
{"v":11201,"x":9.5,"y":8.49},{"v":11201,"x":10,"y":9.28},{"v":11201,"x":11,"y":8.21},{"v":11201,"x":11,"y":7.5},{"v":11201,"x":10.4,"y":7.36},
{"v":11202,"x":-12.3,"y":3.95},{"v":11202,"x":-11.7,"y":4.66},{"v":11202,"x":-9.5,"y":4.3},{"v":11202,"x":-8.3,"y":3.66},{"v":11202,"x":-9.3,"y":3.1},{"v":11202,"x":-11.5,"y":2.6},{"v":11202,"x":-12.4,"y":3.1},
{"v":12000,"x":-3.8,"y":6.65},{"v":12000,"x":-3,"y":7.36},{"v":12000,"x":-1,"y":7},{"v":12000,"x":1.5,"y":6.36},{"v":12000,"x":3.1,"y":5.37},{"v":12000,"x":5.5,"y":4.38},{"v":12000,"x":5.5,"y":3.81},{"v":12000,"x":4.3,"y":3.74},{"v":12000,"x":2.7,"y":4.66},{"v":12000,"x":-1.4,"y":4.52},{"v":12000,"x":-2.2,"y":5.37},{"v":12000,"x":-2.6,"y":5.72},
{"v":12001,"x":9.6,"y":8.78},{"v":12001,"x":10,"y":8.99},{"v":12001,"x":10.7,"y":8.21},{"v":12001,"x":10.9,"y":7.57},{"v":12001,"x":10.2,"y":7.43},{"v":12001,"x":9.8,"y":8.21},
{"v":12002,"x":-12.1,"y":3.81},{"v":12002,"x":-11.3,"y":4.38},{"v":12002,"x":-9.7,"y":4.02},{"v":12002,"x":-8.9,"y":3.59},{"v":12002,"x":-10.1,"y":3.03},{"v":12002,"x":-11.5,"y":2.67},{"v":12002,"x":-12.2,"y":3.1},
{"v":8802,"x":-6.4,"y":0.26},{"v":8802,"x":-5.8,"y":2.95},{"v":8802,"x":-4.4,"y":3.24},{"v":8802,"x":-3,"y":2.95},{"v":8802,"x":-2,"y":0.4},
{"v":9602,"x":-6.3,"y":0.26},{"v":9602,"x":-5.6,"y":2.67},{"v":9602,"x":-4.3,"y":2.95},{"v":9602,"x":-3.1,"y":2.67},{"v":9602,"x":-2.1,"y":0.4},
{"v":10405,"x":-6.3,"y":0.26},{"v":10405,"x":-5.5,"y":2.46},{"v":10405,"x":-4.3,"y":2.6},{"v":10405,"x":-3.2,"y":2.39},{"v":10405,"x":-2.2,"y":0.4},
{"v":11203,"x":-6.3,"y":0.26},{"v":11203,"x":-5.3,"y":2.17},{"v":11203,"x":-4.3,"y":2.32},{"v":11203,"x":-3.3,"y":2.1},{"v":11203,"x":-2.3,"y":0.4},
{"v":12003,"x":-6.4,"y":0.26},{"v":12003,"x":-5.2,"y":1.89},{"v":12003,"x":-4.2,"y":2.06},{"v":12003,"x":-3.2,"y":1.82},{"v":12003,"x":-2,"y":0.75},{"v":12003,"x":3,"y":0.4},{"v":12003,"x":0,"y":0.2},
{"v":8803,"x":-2,"y":0.68},{"v":8803,"x":-1.6,"y":3.1},{"v":8803,"x":1.05,"y":3.95},{"v":8803,"x":3.9,"y":3.1},{"v":8803,"x":5.5,"y":1.53},{"v":8803,"x":12,"y":0.75},{"v":8803,"x":7.9,"y":0.4},{"v":8803,"x":-1,"y":0.4},
{"v":8004,"x":-1.9,"y":0.68},{"v":8004,"x":-1.4,"y":2.95},{"v":8004,"x":1.05,"y":3.74},{"v":8004,"x":3.7,"y":2.95},{"v":8004,"x":5.1,"y":1.46},{"v":8004,"x":11.8,"y":0.74},{"v":8004,"x":7.9,"y":0.4},{"v":8004,"x":-1,"y":0.4},
{"v":7203,"x":-1.8,"y":0.68},{"v":7203,"x":-1.4,"y":2.81},{"v":7203,"x":1.05,"y":3.52},{"v":7203,"x":3.5,"y":2.81},{"v":7203,"x":4.7,"y":1.42},{"v":7203,"x":11.6,"y":0.72},{"v":7203,"x":7.9,"y":0.4},{"v":7203,"x":-1,"y":0.4},
{"v":6402,"x":-1.7,"y":0.68},{"v":6402,"x":-1.3,"y":2.67},{"v":6402,"x":1.05,"y":3.31},{"v":6402,"x":3.3,"y":2.67},{"v":6402,"x":4.4,"y":1.39},{"v":6402,"x":11.6,"y":0.71},{"v":6402,"x":7.9,"y":0.4},{"v":6402,"x":-1,"y":0.4},
{"v":5602,"x":-1.6,"y":0.68},{"v":5602,"x":-1.2,"y":2.53},{"v":5602,"x":1.05,"y":3.17},{"v":5602,"x":3.1,"y":2.53},{"v":5602,"x":4.1,"y":1.36},{"v":5602,"x":11.6,"y":0.69},{"v":5602,"x":7.9,"y":0.4},{"v":5602,"x":-1,"y":0.4},
{"v":4802,"x":-1.6,"y":0.68},{"v":4802,"x":-1.1,"y":2.39},{"v":4802,"x":1.05,"y":3.02},{"v":4802,"x":3,"y":2.39},{"v":4802,"x":3.9,"y":1.33},{"v":4802,"x":11.6,"y":0.68},{"v":4802,"x":7.9,"y":0.4},{"v":4802,"x":-1,"y":0.4},
{"v":4002,"x":-1.5,"y":0.68},{"v":4002,"x":-1,"y":2.24},{"v":4002,"x":1.05,"y":2.88},{"v":4002,"x":2.9,"y":2.24},{"v":4002,"x":3.7,"y":1.3},{"v":4002,"x":11.6,"y":0.66},{"v":4002,"x":7.9,"y":0.4},{"v":4002,"x":-1,"y":0.4},
{"v":3202,"x":-1.4,"y":0.68},{"v":3202,"x":-0.9,"y":2.17},{"v":3202,"x":1.05,"y":2.78},{"v":3202,"x":2.8,"y":2.17},{"v":3202,"x":3.6,"y":1.28},{"v":3202,"x":11.6,"y":0.64},{"v":3202,"x":7.9,"y":0.4},{"v":3202,"x":-1,"y":0.4},
{"v":2402,"x":-1.4,"y":0.68},{"v":2402,"x":-0.9,"y":2.1},{"v":2402,"x":1.05,"y":2.72},{"v":2402,"x":2.7,"y":2.1},{"v":2402,"x":3.5,"y":1.25},{"v":2402,"x":11.4,"y":0.62},{"v":2402,"x":7.9,"y":0.4},{"v":2402,"x":-1,"y":0.4},
{"v":1602,"x":-1.3,"y":0.68},{"v":1602,"x":-0.8,"y":2.03},{"v":1602,"x":1.05,"y":2.66},{"v":1602,"x":2.6,"y":2.03},{"v":1602,"x":3.4,"y":1.22},{"v":1602,"x":11.2,"y":0.6},{"v":1602,"x":7.9,"y":0.4},{"v":1602,"x":-1,"y":0.4},
{"v":802,"x":-1.3,"y":0.68},{"v":802,"x":-0.8,"y":1.96},{"v":802,"x":1.05,"y":2.62},{"v":802,"x":2.5,"y":1.96},{"v":802,"x":3.3,"y":1.18},{"v":802,"x":11.2,"y":0.58},{"v":802,"x":7.9,"y":0.42},{"v":802,"x":-1,"y":0.45},
{"v":2,"x":-1.2,"y":0.75},{"v":2,"x":-0.7,"y":1.96},{"v":2,"x":1.05,"y":2.57},{"v":2,"x":2.3,"y":2.38},{"v":2,"x":3.3,"y":1.25},{"v":2,"x":8.7,"y":0.96},{"v":2,"x":11.6,"y":0.63},{"v":2,"x":7.9,"y":0.5},{"v":2,"x":-1,"y":0.6},
{"v":4805,"x":-6.2,"y":9.2},{"v":4805,"x":-5.4,"y":9.99},{"v":4805,"x":-5,"y":9.63},{"v":4805,"x":-5.6,"y":9.13},
{"v":5,"x":16,"y":1.53},{"v":5,"x":17.2,"y":2.17},{"v":5,"x":19.1,"y":1.89},{"v":5,"x":19.1,"y":1.25},{"v":5,"x":16.8,"y":1.11},
{"v":6,"x":12.4,"y":10.7},{"v":6,"x":14.4,"y":10.91},{"v":6,"x":15.6,"y":10.77},{"v":6,"x":14.4,"y":10.55},
{"v":7,"x":16,"y":11.16},{"v":7,"x":17.9,"y":11.34},{"v":7,"x":17.9,"y":10.88},{"v":7,"x":16.8,"y":10.98}],
"m4":[{"x":-25,"y":14},{"x":25,"y":14},{"x":25,"y":-2},{"x":-25,"y":-2},{"x":-25,"y":14},{"x":-18,"y":11.26},{"x":-18,"y":3.1},{"x":-17.7,"y":2.53},{"x":-17.6,"y":0},{"x":-12.7,"y":0.09},{"x":-6.2,"y":0.26},{"x":3.1,"y":0.33},{"x":11.2,"y":0.61},{"x":15.2,"y":0.82},{"x":19.1,"y":1.25},{"x":19.5,"y":3.38},{"x":19.5,"y":7.14},{"x":18.7,"y":8.92},{"x":18.1,"y":9.91},{"x":17.9,"y":11.16},{"x":12,"y":11.12},{"x":7.1,"y":11.26},{"x":-18,"y":11.26},{"x":-25,"y":14}],
"bar":[{"lo":0,"hi":800},{"lo":800,"hi":1600},{"lo":1600,"hi":2400},{"lo":2400,"hi":3200},{"lo":3200,"hi":4000},{"lo":4000,"hi":4800},{"lo":4800,"hi":5600},{"lo":5600,"hi":6400},{"lo":6400,"hi":7200},{"lo":7200,"hi":8000},{"lo":8000,"hi":8800},{"lo":8800,"hi":9600},{"lo":9600,"hi":10400},{"lo":10400,"hi":11200},{"lo":11200,"hi":12000}],
"tri":[{"v":12000,"x":0,"y":12000},{"v":12000,"x":0.5,"y":12736},{"v":12000,"x":1,"y":12000},{"v":-1,"x":0,"y":0},{"v":-1,"x":0.5,"y":-552},{"v":-1,"x":1,"y":0}],
"out":[{"n":1,"x":0,"y":0},{"n":2,"x":0,"y":12000},{"n":3,"x":0.5,"y":12736},{"n":4,"x":1,"y":12000},{"n":5,"x":1,"y":0},{"n":6,"x":0.5,"y":-552},{"n":7,"x":0,"y":0}],
"frame":[{"a":-19.15,"b":20.1,"c":-0.14,"d":12.11}],"gap":[]},
"concat":[
{"width":324,"height":288,"title":"Light ID: 1","layer":[{"data":{"name":"c1"},"transform":[{"window":[{"op":"row_number","as":"n"}]}],"mark":{"type":"line","interpolate":"cardinal-closed","stroke":"black","strokeWidth":1.1,"strokeDash":[4,2],"clip":true},"encoding":{"x":{"field":"x","type":"quantitative","scale":{"domain":[-19.15,20.1],"nice":false,"zero":false},"axis":{"values":[-10,0,10,20],"title":null,"labels":false}},"y":{"field":"y","type":"quantitative","scale":{"domain":[-0.14,12.11],"nice":false,"zero":false},"axis":{"values":[0,2.5,5,7.5,10],"format":".1f","title":"Vertical Degrees","titleX":-100,"titleY":326,"titleAngle":270,"titleBaseline":"alphabetic","titleAlign":"center"}},"detail":{"field":"v","type":"nominal"},"order":{"field":"n"},"fill":{"field":"v","type":"quantitative","legend":null,"scale":{"type":"threshold","domain":[0,800,1600,2400,3200,4000,4800,5600,6400,7200,8000,8800,9600,10400,11200,12000],"range":["#5e4fa2","#5a58a6","#3a85bb","#50a9af","#7dcaa5","#aadca4","#d0ec9d","#eaf79f","#feffbe","#fee797","#fdc776","#fca65c","#f67d4a","#e65848","#d13b4b","#ae1446","#9e0142"]}}}},{"data":{"name":"m1"},"transform":[{"window":[{"op":"row_number","as":"n"}]}],"mark":{"type":"line","fill":"white","stroke":null,"clip":true},"encoding":{"x":{"field":"x","type":"quantitative"},"y":{"field":"y","type":"quantitative"},"order":{"field":"n"}}},{"data":{"name":"frame"},"mark":{"type":"rect","fill":null,"stroke":"black","strokeWidth":2},"encoding":{"x":{"field":"a","type":"quantitative"},"x2":{"field":"b"},"y":{"field":"c","type":"quantitative"},"y2":{"field":"d"}}}]},
{"width":13,"height":288,"layer":[{"data":{"name":"bar"},"mark":{"type":"rect"},"encoding":{"y":{"field":"lo","type":"quantitative","scale":{"domain":[-552,12736],"nice":false,"zero":false},"axis":{"orient":"right","values":[0,2000,4000,6000,8000,10000,12000],"title":null,"format":"d","labelPadding":10}},"y2":{"field":"hi"},"fill":{"field":"lo","type":"quantitative","legend":null,"scale":{"type":"threshold","domain":[0,800,1600,2400,3200,4000,4800,5600,6400,7200,8000,8800,9600,10400,11200,12000],"range":["#5e4fa2","#5a58a6","#3a85bb","#50a9af","#7dcaa5","#aadca4","#d0ec9d","#eaf79f","#feffbe","#fee797","#fdc776","#fca65c","#f67d4a","#e65848","#d13b4b","#ae1446","#9e0142"]}}}},{"data":{"name":"tri"},"mark":{"type":"line","stroke":null},"encoding":{"x":{"field":"x","type":"quantitative","scale":{"domain":[0,1],"nice":false,"zero":false},"axis":null},"y":{"field":"y","type":"quantitative"},"detail":{"field":"v","type":"nominal"},"fill":{"field":"v","type":"quantitative","legend":null,"scale":{"type":"threshold","domain":[0,800,1600,2400,3200,4000,4800,5600,6400,7200,8000,8800,9600,10400,11200,12000],"range":["#5e4fa2","#5a58a6","#3a85bb","#50a9af","#7dcaa5","#aadca4","#d0ec9d","#eaf79f","#feffbe","#fee797","#fdc776","#fca65c","#f67d4a","#e65848","#d13b4b","#ae1446","#9e0142"]}}}},{"data":{"name":"out"},"mark":{"type":"line","stroke":"black","strokeWidth":2,"clip":false},"encoding":{"x":{"field":"x","type":"quantitative"},"y":{"field":"y","type":"quantitative"},"order":{"field":"n"}}}]},
{"width":89,"height":288,"data":{"name":"gap"},"mark":"point","encoding":{}},
{"width":324,"height":288,"title":"Light ID: 2","layer":[{"data":{"name":"c2"},"transform":[{"window":[{"op":"row_number","as":"n"}]}],"mark":{"type":"line","interpolate":"cardinal-closed","stroke":"black","strokeWidth":1.1,"strokeDash":[4,2],"clip":true},"encoding":{"x":{"field":"x","type":"quantitative","scale":{"domain":[-19.17,20.1],"nice":false,"zero":false},"axis":{"values":[-10,0,10,20],"title":null,"labels":false}},"y":{"field":"y","type":"quantitative","scale":{"domain":[-0.14,12.11],"nice":false,"zero":false},"axis":{"values":[0,2.5,5,7.5,10],"labels":false,"title":null}},"detail":{"field":"v","type":"nominal"},"order":{"field":"n"},"fill":{"field":"v","type":"quantitative","legend":null,"scale":{"type":"threshold","domain":[0,800,1600,2400,3200,4000,4800,5600,6400,7200,8000,8800,9600,10400,11200,12000],"range":["#5e4fa2","#5a58a6","#3a85bb","#50a9af","#7dcaa5","#aadca4","#d0ec9d","#eaf79f","#feffbe","#fee797","#fdc776","#fca65c","#f67d4a","#e65848","#d13b4b","#ae1446","#9e0142"]}}}},{"data":{"name":"m2"},"transform":[{"window":[{"op":"row_number","as":"n"}]}],"mark":{"type":"line","fill":"white","stroke":null,"clip":true},"encoding":{"x":{"field":"x","type":"quantitative"},"y":{"field":"y","type":"quantitative"},"order":{"field":"n"}}},{"data":{"values":[{"a":-19.17,"b":20.1,"c":-0.14,"d":12.11}]},"mark":{"type":"rect","fill":null,"stroke":"black","strokeWidth":2},"encoding":{"x":{"field":"a","type":"quantitative"},"x2":{"field":"b"},"y":{"field":"c","type":"quantitative"},"y2":{"field":"d"}}}]},
{"width":13,"height":288,"layer":[{"data":{"name":"bar"},"mark":{"type":"rect"},"encoding":{"y":{"field":"lo","type":"quantitative","scale":{"domain":[-552,12736],"nice":false,"zero":false},"axis":{"orient":"right","values":[0,2000,4000,6000,8000,10000,12000],"title":null,"format":"d","labelPadding":10}},"y2":{"field":"hi"},"fill":{"field":"lo","type":"quantitative","legend":null,"scale":{"type":"threshold","domain":[0,800,1600,2400,3200,4000,4800,5600,6400,7200,8000,8800,9600,10400,11200,12000],"range":["#5e4fa2","#5a58a6","#3a85bb","#50a9af","#7dcaa5","#aadca4","#d0ec9d","#eaf79f","#feffbe","#fee797","#fdc776","#fca65c","#f67d4a","#e65848","#d13b4b","#ae1446","#9e0142"]}}}},{"data":{"name":"tri"},"mark":{"type":"line","stroke":null},"encoding":{"x":{"field":"x","type":"quantitative","scale":{"domain":[0,1],"nice":false,"zero":false},"axis":null},"y":{"field":"y","type":"quantitative"},"detail":{"field":"v","type":"nominal"},"fill":{"field":"v","type":"quantitative","legend":null,"scale":{"type":"threshold","domain":[0,800,1600,2400,3200,4000,4800,5600,6400,7200,8000,8800,9600,10400,11200,12000],"range":["#5e4fa2","#5a58a6","#3a85bb","#50a9af","#7dcaa5","#aadca4","#d0ec9d","#eaf79f","#feffbe","#fee797","#fdc776","#fca65c","#f67d4a","#e65848","#d13b4b","#ae1446","#9e0142"]}}}},{"data":{"name":"out"},"mark":{"type":"line","stroke":"black","strokeWidth":2,"clip":false},"encoding":{"x":{"field":"x","type":"quantitative"},"y":{"field":"y","type":"quantitative"},"order":{"field":"n"}}}]},
{"width":324,"height":288,"title":"Light ID: 3","layer":[{"data":{"name":"c3"},"transform":[{"window":[{"op":"row_number","as":"n"}]}],"mark":{"type":"line","interpolate":"cardinal-closed","stroke":"black","strokeWidth":1.1,"strokeDash":[4,2],"clip":true},"encoding":{"x":{"field":"x","type":"quantitative","scale":{"domain":[-19.15,20.1],"nice":false,"zero":false},"axis":{"values":[-10,0,10,20],"title":"Horizontal Degrees","titleX":432,"titleY":78,"titleBaseline":"alphabetic","titleAlign":"center"}},"y":{"field":"y","type":"quantitative","scale":{"domain":[-0.14,12.11],"nice":false,"zero":false},"axis":{"values":[0,2.5,5,7.5,10],"format":".1f","title":null}},"detail":{"field":"v","type":"nominal"},"order":{"field":"n"},"fill":{"field":"v","type":"quantitative","legend":null,"scale":{"type":"threshold","domain":[0,800,1600,2400,3200,4000,4800,5600,6400,7200,8000,8800,9600,10400,11200,12000],"range":["#5e4fa2","#5a58a6","#3a85bb","#50a9af","#7dcaa5","#aadca4","#d0ec9d","#eaf79f","#feffbe","#fee797","#fdc776","#fca65c","#f67d4a","#e65848","#d13b4b","#ae1446","#9e0142"]}}}},{"data":{"name":"m3"},"transform":[{"window":[{"op":"row_number","as":"n"}]}],"mark":{"type":"line","fill":"white","stroke":null,"clip":true},"encoding":{"x":{"field":"x","type":"quantitative"},"y":{"field":"y","type":"quantitative"},"order":{"field":"n"}}},{"data":{"name":"frame"},"mark":{"type":"rect","fill":null,"stroke":"black","strokeWidth":2},"encoding":{"x":{"field":"a","type":"quantitative"},"x2":{"field":"b"},"y":{"field":"c","type":"quantitative"},"y2":{"field":"d"}}}]},
{"width":13,"height":288,"layer":[{"data":{"name":"bar"},"mark":{"type":"rect"},"encoding":{"y":{"field":"lo","type":"quantitative","scale":{"domain":[-552,12736],"nice":false,"zero":false},"axis":{"orient":"right","values":[0,2000,4000,6000,8000,10000,12000],"title":null,"format":"d","labelPadding":10}},"y2":{"field":"hi"},"fill":{"field":"lo","type":"quantitative","legend":null,"scale":{"type":"threshold","domain":[0,800,1600,2400,3200,4000,4800,5600,6400,7200,8000,8800,9600,10400,11200,12000],"range":["#5e4fa2","#5a58a6","#3a85bb","#50a9af","#7dcaa5","#aadca4","#d0ec9d","#eaf79f","#feffbe","#fee797","#fdc776","#fca65c","#f67d4a","#e65848","#d13b4b","#ae1446","#9e0142"]}}}},{"data":{"name":"tri"},"mark":{"type":"line","stroke":null},"encoding":{"x":{"field":"x","type":"quantitative","scale":{"domain":[0,1],"nice":false,"zero":false},"axis":null},"y":{"field":"y","type":"quantitative"},"detail":{"field":"v","type":"nominal"},"fill":{"field":"v","type":"quantitative","legend":null,"scale":{"type":"threshold","domain":[0,800,1600,2400,3200,4000,4800,5600,6400,7200,8000,8800,9600,10400,11200,12000],"range":["#5e4fa2","#5a58a6","#3a85bb","#50a9af","#7dcaa5","#aadca4","#d0ec9d","#eaf79f","#feffbe","#fee797","#fdc776","#fca65c","#f67d4a","#e65848","#d13b4b","#ae1446","#9e0142"]}}}},{"data":{"name":"out"},"mark":{"type":"line","stroke":"black","strokeWidth":2,"clip":false},"encoding":{"x":{"field":"x","type":"quantitative"},"y":{"field":"y","type":"quantitative"},"order":{"field":"n"}}}]},
{"width":89,"height":288,"data":{"name":"gap"},"mark":"point","encoding":{}},
{"width":324,"height":288,"title":"Light ID: 4","layer":[{"data":{"name":"c4"},"transform":[{"window":[{"op":"row_number","as":"n"}]}],"mark":{"type":"line","interpolate":"cardinal-closed","stroke":"black","strokeWidth":1.1,"strokeDash":[4,2],"clip":true},"encoding":{"x":{"field":"x","type":"quantitative","scale":{"domain":[-19.17,20.1],"nice":false,"zero":false},"axis":{"values":[-10,0,10,20],"title":null}},"y":{"field":"y","type":"quantitative","scale":{"domain":[-0.14,12.11],"nice":false,"zero":false},"axis":{"values":[0,2.5,5,7.5,10],"labels":false,"title":null}},"detail":{"field":"v","type":"nominal"},"order":{"field":"n"},"fill":{"field":"v","type":"quantitative","legend":null,"scale":{"type":"threshold","domain":[0,800,1600,2400,3200,4000,4800,5600,6400,7200,8000,8800,9600,10400,11200,12000],"range":["#5e4fa2","#5a58a6","#3a85bb","#50a9af","#7dcaa5","#aadca4","#d0ec9d","#eaf79f","#feffbe","#fee797","#fdc776","#fca65c","#f67d4a","#e65848","#d13b4b","#ae1446","#9e0142"]}}}},{"data":{"name":"m4"},"transform":[{"window":[{"op":"row_number","as":"n"}]}],"mark":{"type":"line","fill":"white","stroke":null,"clip":true},"encoding":{"x":{"field":"x","type":"quantitative"},"y":{"field":"y","type":"quantitative"},"order":{"field":"n"}}},{"data":{"values":[{"a":-19.17,"b":20.1,"c":-0.14,"d":12.11}]},"mark":{"type":"rect","fill":null,"stroke":"black","strokeWidth":2},"encoding":{"x":{"field":"a","type":"quantitative"},"x2":{"field":"b"},"y":{"field":"c","type":"quantitative"},"y2":{"field":"d"}}}]},
{"width":13,"height":288,"layer":[{"data":{"name":"bar"},"mark":{"type":"rect"},"encoding":{"y":{"field":"lo","type":"quantitative","scale":{"domain":[-552,12736],"nice":false,"zero":false},"axis":{"orient":"right","values":[0,2000,4000,6000,8000,10000,12000],"title":null,"format":"d","labelPadding":10}},"y2":{"field":"hi"},"fill":{"field":"lo","type":"quantitative","legend":null,"scale":{"type":"threshold","domain":[0,800,1600,2400,3200,4000,4800,5600,6400,7200,8000,8800,9600,10400,11200,12000],"range":["#5e4fa2","#5a58a6","#3a85bb","#50a9af","#7dcaa5","#aadca4","#d0ec9d","#eaf79f","#feffbe","#fee797","#fdc776","#fca65c","#f67d4a","#e65848","#d13b4b","#ae1446","#9e0142"]}}}},{"data":{"name":"tri"},"mark":{"type":"line","stroke":null},"encoding":{"x":{"field":"x","type":"quantitative","scale":{"domain":[0,1],"nice":false,"zero":false},"axis":null},"y":{"field":"y","type":"quantitative"},"detail":{"field":"v","type":"nominal"},"fill":{"field":"v","type":"quantitative","legend":null,"scale":{"type":"threshold","domain":[0,800,1600,2400,3200,4000,4800,5600,6400,7200,8000,8800,9600,10400,11200,12000],"range":["#5e4fa2","#5a58a6","#3a85bb","#50a9af","#7dcaa5","#aadca4","#d0ec9d","#eaf79f","#feffbe","#fee797","#fdc776","#fca65c","#f67d4a","#e65848","#d13b4b","#ae1446","#9e0142"]}}}},{"data":{"name":"out"},"mark":{"type":"line","stroke":"black","strokeWidth":2,"clip":false},"encoding":{"x":{"field":"x","type":"quantitative"},"y":{"field":"y","type":"quantitative"},"order":{"field":"n"}}}]}
]}
